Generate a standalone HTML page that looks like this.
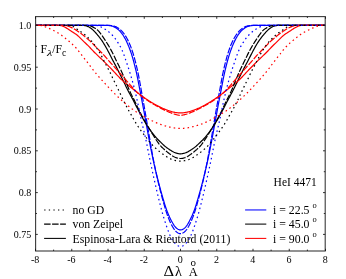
<!DOCTYPE html>
<html><head><meta charset="utf-8"><style>
html,body{margin:0;padding:0;background:#fff;}
body{width:346px;height:279px;overflow:hidden;}
svg{display:block;will-change:transform;filter:blur(0.28px);}
text{font-family:"Liberation Serif",serif;fill:#000;}
</style></head><body>
<svg width="346" height="279" viewBox="0 0 346 279">
<rect x="0" y="0" width="346" height="279" fill="#fff"/>
<clipPath id="c"><rect x="35.6" y="16.6" width="289.59999999999997" height="234.4"/></clipPath>
<g clip-path="url(#c)">
<path d="M35.60 25.40 L36.10 25.40 L36.60 25.40 L37.10 25.40 L37.60 25.40 L38.10 25.40 L38.60 25.40 L39.10 25.40 L39.60 25.40 L40.10 25.40 L40.60 25.40 L41.10 25.40 L41.60 25.40 L42.10 25.40 L42.60 25.40 L43.10 25.40 L43.60 25.40 L44.10 25.40 L44.60 25.40 L45.10 25.40 L45.60 25.40 L46.10 25.40 L46.60 25.40 L47.10 25.40 L47.60 25.40 L48.10 25.40 L48.60 25.40 L49.10 25.40 L49.60 25.40 L50.10 25.40 L50.60 25.40 L51.10 25.40 L51.60 25.40 L52.10 25.40 L52.60 25.40 L53.10 25.40 L53.60 25.40 L54.10 25.40 L54.60 25.40 L55.10 25.40 L55.60 25.40 L56.10 25.40 L56.60 25.40 L57.10 25.40 L57.60 25.40 L58.10 25.40 L58.60 25.40 L59.10 25.40 L59.60 25.40 L60.10 25.40 L60.60 25.40 L61.10 25.40 L61.60 25.40 L62.10 25.40 L62.60 25.40 L63.10 25.40 L63.60 25.40 L64.10 25.40 L64.60 25.40 L65.10 25.40 L65.60 25.40 L66.10 25.40 L66.60 25.40 L67.10 25.40 L67.60 25.40 L68.10 25.40 L68.60 25.40 L69.10 25.40 L69.60 25.40 L70.10 25.40 L70.60 25.40 L71.10 25.40 L71.60 25.40 L72.10 25.40 L72.60 25.40 L73.10 25.40 L73.60 25.40 L74.10 25.40 L74.60 25.40 L75.10 25.40 L75.60 25.40 L76.10 25.40 L76.60 25.40 L77.10 25.40 L77.60 25.40 L78.10 25.40 L78.60 25.40 L79.10 25.40 L79.60 25.40 L80.10 25.40 L80.60 25.40 L81.10 25.40 L81.60 25.40 L82.10 25.40 L82.60 25.40 L83.10 25.40 L83.60 25.40 L84.10 25.40 L84.60 25.40 L85.10 25.40 L85.60 25.40 L86.10 25.40 L86.60 25.40 L87.10 25.40 L87.60 25.40 L88.10 25.40 L88.60 25.40 L89.10 25.40 L89.60 25.40 L90.10 25.40 L90.60 25.40 L91.10 25.40 L91.60 25.40 L92.10 25.40 L92.60 25.40 L93.10 25.40 L93.60 25.40 L94.10 25.40 L94.60 25.40 L95.10 25.40 L95.60 25.40 L96.10 25.40 L96.60 25.40 L97.10 25.40 L97.60 25.40 L98.10 25.40 L98.60 25.40 L99.10 25.40 L99.60 25.40 L100.10 25.40 L100.60 25.40 L101.10 25.40 L101.60 25.40 L102.10 25.40 L102.60 25.40 L103.10 25.40 L103.60 25.40 L104.10 25.40 L104.60 25.40 L105.10 25.40 L105.60 25.40 L106.10 25.40 L106.60 25.41 L107.10 25.42 L107.60 25.43 L108.10 25.46 L108.60 25.50 L109.10 25.55 L109.60 25.61 L110.10 25.68 L110.60 25.77 L111.10 25.87 L111.60 25.98 L112.10 26.11 L112.60 26.26 L113.10 26.43 L113.60 26.63 L114.10 26.85 L114.60 27.10 L115.10 27.37 L115.60 27.67 L116.10 27.98 L116.60 28.32 L117.10 28.68 L117.60 29.07 L118.10 29.47 L118.60 29.90 L119.10 30.36 L119.60 30.85 L120.10 31.37 L120.60 31.93 L121.10 32.52 L121.60 33.14 L122.10 33.81 L122.60 34.50 L123.10 35.24 L123.60 36.02 L124.10 36.83 L124.60 37.69 L125.10 38.59 L125.60 39.54 L126.10 40.52 L126.60 41.55 L127.10 42.63 L127.60 43.75 L128.10 44.92 L128.60 46.13 L129.10 47.39 L129.60 48.70 L130.10 50.05 L130.60 51.45 L131.10 52.90 L131.60 54.42 L132.10 56.02 L132.60 57.69 L133.10 59.44 L133.60 61.26 L134.10 63.13 L134.60 65.06 L135.10 67.04 L135.60 69.08 L136.10 71.21 L136.60 73.44 L137.10 75.78 L137.60 78.21 L138.10 80.73 L138.60 83.30 L139.10 85.91 L139.60 88.52 L140.10 91.13 L140.60 93.73 L141.10 96.32 L141.60 98.92 L142.10 101.54 L142.60 104.17 L143.10 106.83 L143.60 109.51 L144.10 112.22 L144.60 114.94 L145.10 117.67 L145.60 120.41 L146.10 123.16 L146.60 125.91 L147.10 128.66 L147.60 131.41 L148.10 134.15 L148.60 136.87 L149.10 139.55 L149.60 142.19 L150.10 144.78 L150.60 147.32 L151.10 149.83 L151.60 152.30 L152.10 154.75 L152.60 157.16 L153.10 159.53 L153.60 161.85 L154.10 164.11 L154.60 166.32 L155.10 168.46 L155.60 170.56 L156.10 172.62 L156.60 174.65 L157.10 176.66 L157.60 178.64 L158.10 180.61 L158.60 182.55 L159.10 184.48 L159.60 186.37 L160.10 188.24 L160.60 190.07 L161.10 191.88 L161.60 193.65 L162.10 195.40 L162.60 197.13 L163.10 198.83 L163.60 200.52 L164.10 202.20 L164.60 203.84 L165.10 205.45 L165.60 207.01 L166.10 208.51 L166.60 209.93 L167.10 211.29 L167.60 212.57 L168.10 213.79 L168.60 214.97 L169.10 216.09 L169.60 217.18 L170.10 218.23 L170.60 219.24 L171.10 220.22 L171.60 221.17 L172.10 222.08 L172.60 222.95 L173.10 223.80 L173.60 224.61 L174.10 225.37 L174.60 226.07 L175.10 226.72 L175.60 227.28 L176.10 227.78 L176.60 228.22 L177.10 228.60 L177.60 228.93 L178.10 229.22 L178.60 229.46 L179.10 229.66 L179.60 229.80 L180.10 229.88 L180.60 229.90 L181.10 229.86 L181.60 229.75 L182.10 229.59 L182.60 229.37 L183.10 229.11 L183.60 228.80 L184.10 228.45 L184.60 228.05 L185.10 227.59 L185.60 227.07 L186.10 226.47 L186.60 225.80 L187.10 225.07 L187.60 224.29 L188.10 223.46 L188.60 222.61 L189.10 221.72 L189.60 220.79 L190.10 219.83 L190.60 218.84 L191.10 217.81 L191.60 216.75 L192.10 215.65 L192.60 214.50 L193.10 213.31 L193.60 212.06 L194.10 210.75 L194.60 209.37 L195.10 207.92 L195.60 206.40 L196.10 204.81 L196.60 203.19 L197.10 201.53 L197.60 199.85 L198.10 198.15 L198.60 196.44 L199.10 194.71 L199.60 192.95 L200.10 191.16 L200.60 189.34 L201.10 187.50 L201.60 185.62 L202.10 183.71 L202.60 181.78 L203.10 179.82 L203.60 177.85 L204.10 175.86 L204.60 173.84 L205.10 171.80 L205.60 169.72 L206.10 167.61 L206.60 165.44 L207.10 163.22 L207.60 160.93 L208.10 158.59 L208.60 156.20 L209.10 153.77 L209.60 151.31 L210.10 148.83 L210.60 146.31 L211.10 143.75 L211.60 141.14 L212.10 138.48 L212.60 135.79 L213.10 133.06 L213.60 130.31 L214.10 127.56 L214.60 124.81 L215.10 122.06 L215.60 119.32 L216.10 116.58 L216.60 113.85 L217.10 111.13 L217.60 108.44 L218.10 105.76 L218.60 103.12 L219.10 100.49 L219.60 97.88 L220.10 95.29 L220.60 92.69 L221.10 90.08 L221.60 87.47 L222.10 84.86 L222.60 82.27 L223.10 79.71 L223.60 77.23 L224.10 74.83 L224.60 72.54 L225.10 70.35 L225.60 68.26 L226.10 66.24 L226.60 64.28 L227.10 62.38 L227.60 60.52 L228.10 58.73 L228.60 57.01 L229.10 55.37 L229.60 53.81 L230.10 52.31 L230.60 50.88 L231.10 49.50 L231.60 48.17 L232.10 46.88 L232.60 45.64 L233.10 44.44 L233.60 43.30 L234.10 42.19 L234.60 41.13 L235.10 40.12 L235.60 39.15 L236.10 38.23 L236.60 37.34 L237.10 36.50 L237.60 35.70 L238.10 34.94 L238.60 34.22 L239.10 33.54 L239.60 32.89 L240.10 32.28 L240.60 31.70 L241.10 31.16 L241.60 30.65 L242.10 30.17 L242.60 29.73 L243.10 29.31 L243.60 28.91 L244.10 28.54 L244.60 28.19 L245.10 27.85 L245.60 27.54 L246.10 27.26 L246.60 26.99 L247.10 26.76 L247.60 26.55 L248.10 26.36 L248.60 26.20 L249.10 26.06 L249.60 25.94 L250.10 25.83 L250.60 25.73 L251.10 25.65 L251.60 25.58 L252.10 25.53 L252.60 25.48 L253.10 25.45 L253.60 25.43 L254.10 25.41 L254.60 25.41 L255.10 25.40 L255.60 25.40 L256.10 25.40 L256.60 25.40 L257.10 25.40 L257.60 25.40 L258.10 25.40 L258.60 25.40 L259.10 25.40 L259.60 25.40 L260.10 25.40 L260.60 25.40 L261.10 25.40 L261.60 25.40 L262.10 25.40 L262.60 25.40 L263.10 25.40 L263.60 25.40 L264.10 25.40 L264.60 25.40 L265.10 25.40 L265.60 25.40 L266.10 25.40 L266.60 25.40 L267.10 25.40 L267.60 25.40 L268.10 25.40 L268.60 25.40 L269.10 25.40 L269.60 25.40 L270.10 25.40 L270.60 25.40 L271.10 25.40 L271.60 25.40 L272.10 25.40 L272.60 25.40 L273.10 25.40 L273.60 25.40 L274.10 25.40 L274.60 25.40 L275.10 25.40 L275.60 25.40 L276.10 25.40 L276.60 25.40 L277.10 25.40 L277.60 25.40 L278.10 25.40 L278.60 25.40 L279.10 25.40 L279.60 25.40 L280.10 25.40 L280.60 25.40 L281.10 25.40 L281.60 25.40 L282.10 25.40 L282.60 25.40 L283.10 25.40 L283.60 25.40 L284.10 25.40 L284.60 25.40 L285.10 25.40 L285.60 25.40 L286.10 25.40 L286.60 25.40 L287.10 25.40 L287.60 25.40 L288.10 25.40 L288.60 25.40 L289.10 25.40 L289.60 25.40 L290.10 25.40 L290.60 25.40 L291.10 25.40 L291.60 25.40 L292.10 25.40 L292.60 25.40 L293.10 25.40 L293.60 25.40 L294.10 25.40 L294.60 25.40 L295.10 25.40 L295.60 25.40 L296.10 25.40 L296.60 25.40 L297.10 25.40 L297.60 25.40 L298.10 25.40 L298.60 25.40 L299.10 25.40 L299.60 25.40 L300.10 25.40 L300.60 25.40 L301.10 25.40 L301.60 25.40 L302.10 25.40 L302.60 25.40 L303.10 25.40 L303.60 25.40 L304.10 25.40 L304.60 25.40 L305.10 25.40 L305.60 25.40 L306.10 25.40 L306.60 25.40 L307.10 25.40 L307.60 25.40 L308.10 25.40 L308.60 25.40 L309.10 25.40 L309.60 25.40 L310.10 25.40 L310.60 25.40 L311.10 25.40 L311.60 25.40 L312.10 25.40 L312.60 25.40 L313.10 25.40 L313.60 25.40 L314.10 25.40 L314.60 25.40 L315.10 25.40 L315.60 25.40 L316.10 25.40 L316.60 25.40 L317.10 25.40 L317.60 25.40 L318.10 25.40 L318.60 25.40 L319.10 25.40 L319.60 25.40 L320.10 25.40 L320.60 25.40 L321.10 25.40 L321.60 25.40 L322.10 25.40 L322.60 25.40 L323.10 25.40 L323.60 25.40 L324.10 25.40 L324.60 25.40 L325.10 25.40" fill="none" stroke="#0000ff" stroke-width="1.2"/>
<path d="M35.60 25.40 L36.10 25.40 L36.60 25.40 L37.10 25.40 L37.60 25.40 L38.10 25.40 L38.60 25.40 L39.10 25.40 L39.60 25.40 L40.10 25.40 L40.60 25.40 L41.10 25.40 L41.60 25.40 L42.10 25.40 L42.60 25.40 L43.10 25.40 L43.60 25.40 L44.10 25.40 L44.60 25.40 L45.10 25.40 L45.60 25.40 L46.10 25.40 L46.60 25.40 L47.10 25.40 L47.60 25.40 L48.10 25.40 L48.60 25.40 L49.10 25.40 L49.60 25.40 L50.10 25.40 L50.60 25.40 L51.10 25.40 L51.60 25.40 L52.10 25.40 L52.60 25.40 L53.10 25.40 L53.60 25.40 L54.10 25.40 L54.60 25.40 L55.10 25.40 L55.60 25.40 L56.10 25.40 L56.60 25.40 L57.10 25.40 L57.60 25.40 L58.10 25.40 L58.60 25.40 L59.10 25.40 L59.60 25.40 L60.10 25.40 L60.60 25.40 L61.10 25.40 L61.60 25.40 L62.10 25.40 L62.60 25.40 L63.10 25.40 L63.60 25.40 L64.10 25.40 L64.60 25.40 L65.10 25.40 L65.60 25.40 L66.10 25.40 L66.60 25.40 L67.10 25.40 L67.60 25.40 L68.10 25.40 L68.60 25.40 L69.10 25.40 L69.60 25.40 L70.10 25.40 L70.60 25.40 L71.10 25.40 L71.60 25.40 L72.10 25.40 L72.60 25.40 L73.10 25.40 L73.60 25.40 L74.10 25.40 L74.60 25.40 L75.10 25.40 L75.60 25.40 L76.10 25.40 L76.60 25.40 L77.10 25.40 L77.60 25.40 L78.10 25.40 L78.60 25.40 L79.10 25.40 L79.60 25.40 L80.10 25.40 L80.60 25.40 L81.10 25.40 L81.60 25.40 L82.10 25.41 L82.60 25.42 L83.10 25.43 L83.60 25.46 L84.10 25.50 L84.60 25.56 L85.10 25.64 L85.60 25.73 L86.10 25.85 L86.60 25.99 L87.10 26.16 L87.60 26.35 L88.10 26.58 L88.60 26.82 L89.10 27.09 L89.60 27.39 L90.10 27.70 L90.60 28.04 L91.10 28.40 L91.60 28.79 L92.10 29.19 L92.60 29.62 L93.10 30.08 L93.60 30.55 L94.10 31.05 L94.60 31.58 L95.10 32.12 L95.60 32.68 L96.10 33.25 L96.60 33.83 L97.10 34.42 L97.60 35.02 L98.10 35.62 L98.60 36.24 L99.10 36.86 L99.60 37.50 L100.10 38.15 L100.60 38.82 L101.10 39.50 L101.60 40.21 L102.10 40.94 L102.60 41.69 L103.10 42.46 L103.60 43.25 L104.10 44.06 L104.60 44.89 L105.10 45.73 L105.60 46.60 L106.10 47.48 L106.60 48.38 L107.10 49.29 L107.60 50.22 L108.10 51.16 L108.60 52.11 L109.10 53.07 L109.60 54.05 L110.10 55.03 L110.60 56.01 L111.10 57.00 L111.60 57.99 L112.10 58.97 L112.60 59.94 L113.10 60.90 L113.60 61.84 L114.10 62.78 L114.60 63.72 L115.10 64.65 L115.60 65.59 L116.10 66.54 L116.60 67.50 L117.10 68.46 L117.60 69.44 L118.10 70.42 L118.60 71.40 L119.10 72.40 L119.60 73.40 L120.10 74.41 L120.60 75.42 L121.10 76.43 L121.60 77.45 L122.10 78.47 L122.60 79.49 L123.10 80.51 L123.60 81.53 L124.10 82.55 L124.60 83.58 L125.10 84.61 L125.60 85.64 L126.10 86.68 L126.60 87.70 L127.10 88.72 L127.60 89.72 L128.10 90.70 L128.60 91.66 L129.10 92.60 L129.60 93.53 L130.10 94.45 L130.60 95.37 L131.10 96.29 L131.60 97.22 L132.10 98.15 L132.60 99.09 L133.10 100.04 L133.60 101.00 L134.10 101.96 L134.60 102.94 L135.10 103.92 L135.60 104.90 L136.10 105.89 L136.60 106.87 L137.10 107.84 L137.60 108.81 L138.10 109.76 L138.60 110.70 L139.10 111.63 L139.60 112.55 L140.10 113.46 L140.60 114.37 L141.10 115.27 L141.60 116.17 L142.10 117.06 L142.60 117.95 L143.10 118.83 L143.60 119.70 L144.10 120.56 L144.60 121.40 L145.10 122.23 L145.60 123.05 L146.10 123.86 L146.60 124.66 L147.10 125.45 L147.60 126.23 L148.10 127.00 L148.60 127.76 L149.10 128.50 L149.60 129.24 L150.10 129.96 L150.60 130.66 L151.10 131.35 L151.60 132.02 L152.10 132.69 L152.60 133.34 L153.10 133.97 L153.60 134.60 L154.10 135.22 L154.60 135.82 L155.10 136.42 L155.60 137.00 L156.10 137.58 L156.60 138.14 L157.10 138.69 L157.60 139.22 L158.10 139.74 L158.60 140.25 L159.10 140.74 L159.60 141.23 L160.10 141.71 L160.60 142.19 L161.10 142.67 L161.60 143.15 L162.10 143.64 L162.60 144.11 L163.10 144.59 L163.60 145.05 L164.10 145.50 L164.60 145.93 L165.10 146.35 L165.60 146.76 L166.10 147.15 L166.60 147.54 L167.10 147.91 L167.60 148.27 L168.10 148.62 L168.60 148.96 L169.10 149.30 L169.60 149.63 L170.10 149.95 L170.60 150.27 L171.10 150.58 L171.60 150.89 L172.10 151.19 L172.60 151.49 L173.10 151.76 L173.60 152.02 L174.10 152.26 L174.60 152.48 L175.10 152.68 L175.60 152.86 L176.10 153.02 L176.60 153.17 L177.10 153.31 L177.60 153.44 L178.10 153.55 L178.60 153.65 L179.10 153.73 L179.60 153.78 L180.10 153.81 L180.60 153.82 L181.10 153.80 L181.60 153.76 L182.10 153.70 L182.60 153.61 L183.10 153.51 L183.60 153.39 L184.10 153.26 L184.60 153.12 L185.10 152.96 L185.60 152.79 L186.10 152.60 L186.60 152.40 L187.10 152.17 L187.60 151.92 L188.10 151.65 L188.60 151.37 L189.10 151.07 L189.60 150.77 L190.10 150.46 L190.60 150.14 L191.10 149.82 L191.60 149.50 L192.10 149.16 L192.60 148.83 L193.10 148.48 L193.60 148.12 L194.10 147.76 L194.60 147.38 L195.10 147.00 L195.60 146.60 L196.10 146.19 L196.60 145.76 L197.10 145.32 L197.60 144.87 L198.10 144.40 L198.60 143.92 L199.10 143.44 L199.60 142.96 L200.10 142.48 L200.60 142.00 L201.10 141.52 L201.60 141.03 L202.10 140.55 L202.60 140.05 L203.10 139.54 L203.60 139.01 L204.10 138.47 L204.60 137.92 L205.10 137.35 L205.60 136.77 L206.10 136.18 L206.60 135.58 L207.10 134.97 L207.60 134.35 L208.10 133.72 L208.60 133.08 L209.10 132.42 L209.60 131.75 L210.10 131.07 L210.60 130.38 L211.10 129.67 L211.60 128.95 L212.10 128.21 L212.60 127.46 L213.10 126.69 L213.60 125.92 L214.10 125.13 L214.60 124.34 L215.10 123.54 L215.60 122.72 L216.10 121.90 L216.60 121.06 L217.10 120.22 L217.60 119.35 L218.10 118.48 L218.60 117.60 L219.10 116.71 L219.60 115.81 L220.10 114.91 L220.60 114.01 L221.10 113.10 L221.60 112.19 L222.10 111.26 L222.60 110.33 L223.10 109.38 L223.60 108.42 L224.10 107.45 L224.60 106.48 L225.10 105.49 L225.60 104.51 L226.10 103.53 L226.60 102.55 L227.10 101.58 L227.60 100.61 L228.10 99.66 L228.60 98.71 L229.10 97.78 L229.60 96.85 L230.10 95.93 L230.60 95.00 L231.10 94.08 L231.60 93.16 L232.10 92.22 L232.60 91.27 L233.10 90.31 L233.60 89.32 L234.10 88.32 L234.60 87.29 L235.10 86.26 L235.60 85.23 L236.10 84.20 L236.60 83.17 L237.10 82.14 L237.60 81.12 L238.10 80.10 L238.60 79.08 L239.10 78.06 L239.60 77.04 L240.10 76.02 L240.60 75.01 L241.10 74.00 L241.60 73.00 L242.10 72.00 L242.60 71.01 L243.10 70.02 L243.60 69.05 L244.10 68.08 L244.60 67.11 L245.10 66.16 L245.60 65.22 L246.10 64.28 L246.60 63.34 L247.10 62.41 L247.60 61.47 L248.10 60.52 L248.60 59.56 L249.10 58.58 L249.60 57.60 L250.10 56.61 L250.60 55.62 L251.10 54.63 L251.60 53.66 L252.10 52.69 L252.60 51.73 L253.10 50.78 L253.60 49.85 L254.10 48.93 L254.60 48.02 L255.10 47.13 L255.60 46.25 L256.10 45.39 L256.60 44.55 L257.10 43.73 L257.60 42.93 L258.10 42.15 L258.60 41.38 L259.10 40.64 L259.60 39.92 L260.10 39.23 L260.60 38.55 L261.10 37.89 L261.60 37.24 L262.10 36.61 L262.60 35.99 L263.10 35.38 L263.60 34.78 L264.10 34.18 L264.60 33.60 L265.10 33.02 L265.60 32.45 L266.10 31.90 L266.60 31.37 L267.10 30.85 L267.60 30.36 L268.10 29.89 L268.60 29.45 L269.10 29.03 L269.60 28.63 L270.10 28.26 L270.60 27.90 L271.10 27.57 L271.60 27.27 L272.10 26.98 L272.60 26.72 L273.10 26.48 L273.60 26.27 L274.10 26.09 L274.60 25.93 L275.10 25.80 L275.60 25.69 L276.10 25.60 L276.60 25.54 L277.10 25.48 L277.60 25.45 L278.10 25.43 L278.60 25.41 L279.10 25.40 L279.60 25.40 L280.10 25.40 L280.60 25.40 L281.10 25.40 L281.60 25.40 L282.10 25.40 L282.60 25.40 L283.10 25.40 L283.60 25.40 L284.10 25.40 L284.60 25.40 L285.10 25.40 L285.60 25.40 L286.10 25.40 L286.60 25.40 L287.10 25.40 L287.60 25.40 L288.10 25.40 L288.60 25.40 L289.10 25.40 L289.60 25.40 L290.10 25.40 L290.60 25.40 L291.10 25.40 L291.60 25.40 L292.10 25.40 L292.60 25.40 L293.10 25.40 L293.60 25.40 L294.10 25.40 L294.60 25.40 L295.10 25.40 L295.60 25.40 L296.10 25.40 L296.60 25.40 L297.10 25.40 L297.60 25.40 L298.10 25.40 L298.60 25.40 L299.10 25.40 L299.60 25.40 L300.10 25.40 L300.60 25.40 L301.10 25.40 L301.60 25.40 L302.10 25.40 L302.60 25.40 L303.10 25.40 L303.60 25.40 L304.10 25.40 L304.60 25.40 L305.10 25.40 L305.60 25.40 L306.10 25.40 L306.60 25.40 L307.10 25.40 L307.60 25.40 L308.10 25.40 L308.60 25.40 L309.10 25.40 L309.60 25.40 L310.10 25.40 L310.60 25.40 L311.10 25.40 L311.60 25.40 L312.10 25.40 L312.60 25.40 L313.10 25.40 L313.60 25.40 L314.10 25.40 L314.60 25.40 L315.10 25.40 L315.60 25.40 L316.10 25.40 L316.60 25.40 L317.10 25.40 L317.60 25.40 L318.10 25.40 L318.60 25.40 L319.10 25.40 L319.60 25.40 L320.10 25.40 L320.60 25.40 L321.10 25.40 L321.60 25.40 L322.10 25.40 L322.60 25.40 L323.10 25.40 L323.60 25.40 L324.10 25.40 L324.60 25.40 L325.10 25.40" fill="none" stroke="#000000" stroke-width="1.2"/>
<path d="M35.60 25.40 L36.10 25.40 L36.60 25.40 L37.10 25.40 L37.60 25.40 L38.10 25.40 L38.60 25.40 L39.10 25.40 L39.60 25.40 L40.10 25.40 L40.60 25.40 L41.10 25.40 L41.60 25.40 L42.10 25.40 L42.60 25.40 L43.10 25.40 L43.60 25.40 L44.10 25.40 L44.60 25.40 L45.10 25.40 L45.60 25.40 L46.10 25.40 L46.60 25.40 L47.10 25.40 L47.60 25.40 L48.10 25.40 L48.60 25.40 L49.10 25.40 L49.60 25.40 L50.10 25.40 L50.60 25.40 L51.10 25.40 L51.60 25.40 L52.10 25.40 L52.60 25.40 L53.10 25.40 L53.60 25.40 L54.10 25.40 L54.60 25.40 L55.10 25.40 L55.60 25.40 L56.10 25.40 L56.60 25.40 L57.10 25.40 L57.60 25.40 L58.10 25.41 L58.60 25.41 L59.10 25.42 L59.60 25.45 L60.10 25.48 L60.60 25.54 L61.10 25.62 L61.60 25.73 L62.10 25.88 L62.60 26.07 L63.10 26.30 L63.60 26.55 L64.10 26.80 L64.60 27.07 L65.10 27.33 L65.60 27.59 L66.10 27.86 L66.60 28.14 L67.10 28.43 L67.60 28.74 L68.10 29.07 L68.60 29.40 L69.10 29.75 L69.60 30.09 L70.10 30.42 L70.60 30.76 L71.10 31.09 L71.60 31.42 L72.10 31.74 L72.60 32.06 L73.10 32.38 L73.60 32.70 L74.10 33.01 L74.60 33.33 L75.10 33.66 L75.60 33.99 L76.10 34.34 L76.60 34.71 L77.10 35.09 L77.60 35.50 L78.10 35.93 L78.60 36.38 L79.10 36.85 L79.60 37.34 L80.10 37.84 L80.60 38.35 L81.10 38.86 L81.60 39.36 L82.10 39.87 L82.60 40.36 L83.10 40.85 L83.60 41.34 L84.10 41.83 L84.60 42.31 L85.10 42.80 L85.60 43.28 L86.10 43.76 L86.60 44.24 L87.10 44.71 L87.60 45.18 L88.10 45.66 L88.60 46.16 L89.10 46.67 L89.60 47.20 L90.10 47.73 L90.60 48.27 L91.10 48.81 L91.60 49.35 L92.10 49.89 L92.60 50.42 L93.10 50.95 L93.60 51.46 L94.10 51.97 L94.60 52.46 L95.10 52.95 L95.60 53.44 L96.10 53.93 L96.60 54.41 L97.10 54.90 L97.60 55.39 L98.10 55.87 L98.60 56.35 L99.10 56.82 L99.60 57.29 L100.10 57.76 L100.60 58.22 L101.10 58.69 L101.60 59.16 L102.10 59.64 L102.60 60.12 L103.10 60.61 L103.60 61.11 L104.10 61.62 L104.60 62.13 L105.10 62.64 L105.60 63.15 L106.10 63.66 L106.60 64.17 L107.10 64.68 L107.60 65.19 L108.10 65.69 L108.60 66.19 L109.10 66.69 L109.60 67.19 L110.10 67.68 L110.60 68.18 L111.10 68.69 L111.60 69.20 L112.10 69.71 L112.60 70.23 L113.10 70.76 L113.60 71.30 L114.10 71.84 L114.60 72.39 L115.10 72.93 L115.60 73.48 L116.10 74.02 L116.60 74.56 L117.10 75.10 L117.60 75.63 L118.10 76.16 L118.60 76.68 L119.10 77.20 L119.60 77.72 L120.10 78.22 L120.60 78.72 L121.10 79.21 L121.60 79.68 L122.10 80.15 L122.60 80.60 L123.10 81.04 L123.60 81.48 L124.10 81.90 L124.60 82.32 L125.10 82.73 L125.60 83.14 L126.10 83.55 L126.60 83.95 L127.10 84.35 L127.60 84.76 L128.10 85.16 L128.60 85.56 L129.10 85.96 L129.60 86.36 L130.10 86.76 L130.60 87.16 L131.10 87.55 L131.60 87.95 L132.10 88.34 L132.60 88.74 L133.10 89.13 L133.60 89.53 L134.10 89.93 L134.60 90.32 L135.10 90.72 L135.60 91.12 L136.10 91.52 L136.60 91.92 L137.10 92.32 L137.60 92.72 L138.10 93.12 L138.60 93.51 L139.10 93.90 L139.60 94.28 L140.10 94.66 L140.60 95.04 L141.10 95.41 L141.60 95.78 L142.10 96.14 L142.60 96.50 L143.10 96.86 L143.60 97.21 L144.10 97.56 L144.60 97.91 L145.10 98.25 L145.60 98.60 L146.10 98.93 L146.60 99.27 L147.10 99.60 L147.60 99.93 L148.10 100.26 L148.60 100.58 L149.10 100.90 L149.60 101.21 L150.10 101.53 L150.60 101.84 L151.10 102.15 L151.60 102.45 L152.10 102.75 L152.60 103.05 L153.10 103.34 L153.60 103.64 L154.10 103.92 L154.60 104.21 L155.10 104.49 L155.60 104.77 L156.10 105.05 L156.60 105.32 L157.10 105.59 L157.60 105.86 L158.10 106.12 L158.60 106.38 L159.10 106.64 L159.60 106.89 L160.10 107.13 L160.60 107.37 L161.10 107.61 L161.60 107.84 L162.10 108.06 L162.60 108.28 L163.10 108.50 L163.60 108.71 L164.10 108.92 L164.60 109.13 L165.10 109.33 L165.60 109.53 L166.10 109.72 L166.60 109.91 L167.10 110.10 L167.60 110.28 L168.10 110.46 L168.60 110.63 L169.10 110.80 L169.60 110.96 L170.10 111.12 L170.60 111.27 L171.10 111.43 L171.60 111.57 L172.10 111.71 L172.60 111.85 L173.10 111.97 L173.60 112.09 L174.10 112.20 L174.60 112.30 L175.10 112.40 L175.60 112.48 L176.10 112.56 L176.60 112.64 L177.10 112.70 L177.60 112.77 L178.10 112.82 L178.60 112.87 L179.10 112.91 L179.60 112.94 L180.10 112.96 L180.60 112.96 L181.10 112.95 L181.60 112.93 L182.10 112.90 L182.60 112.86 L183.10 112.80 L183.60 112.74 L184.10 112.68 L184.60 112.61 L185.10 112.53 L185.60 112.45 L186.10 112.36 L186.60 112.26 L187.10 112.16 L187.60 112.05 L188.10 111.92 L188.60 111.79 L189.10 111.66 L189.60 111.51 L190.10 111.37 L190.60 111.21 L191.10 111.06 L191.60 110.90 L192.10 110.73 L192.60 110.56 L193.10 110.39 L193.60 110.21 L194.10 110.02 L194.60 109.84 L195.10 109.64 L195.60 109.45 L196.10 109.25 L196.60 109.05 L197.10 108.84 L197.60 108.63 L198.10 108.42 L198.60 108.20 L199.10 107.97 L199.60 107.75 L200.10 107.51 L200.60 107.28 L201.10 107.04 L201.60 106.79 L202.10 106.54 L202.60 106.28 L203.10 106.02 L203.60 105.75 L204.10 105.48 L204.60 105.21 L205.10 104.94 L205.60 104.66 L206.10 104.38 L206.60 104.10 L207.10 103.81 L207.60 103.52 L208.10 103.23 L208.60 102.93 L209.10 102.63 L209.60 102.33 L210.10 102.02 L210.60 101.72 L211.10 101.40 L211.60 101.09 L212.10 100.77 L212.60 100.45 L213.10 100.13 L213.60 99.80 L214.10 99.47 L214.60 99.14 L215.10 98.80 L215.60 98.46 L216.10 98.12 L216.60 97.77 L217.10 97.42 L217.60 97.07 L218.10 96.72 L218.60 96.36 L219.10 96.00 L219.60 95.63 L220.10 95.26 L220.60 94.89 L221.10 94.51 L221.60 94.13 L222.10 93.74 L222.60 93.35 L223.10 92.96 L223.60 92.56 L224.10 92.16 L224.60 91.76 L225.10 91.36 L225.60 90.96 L226.10 90.56 L226.60 90.16 L227.10 89.77 L227.60 89.37 L228.10 88.97 L228.60 88.58 L229.10 88.18 L229.60 87.79 L230.10 87.39 L230.60 87.00 L231.10 86.60 L231.60 86.20 L232.10 85.80 L232.60 85.40 L233.10 85.00 L233.60 84.60 L234.10 84.19 L234.60 83.79 L235.10 83.38 L235.60 82.98 L236.10 82.57 L236.60 82.15 L237.10 81.73 L237.60 81.30 L238.10 80.87 L238.60 80.42 L239.10 79.96 L239.60 79.49 L240.10 79.01 L240.60 78.52 L241.10 78.02 L241.60 77.51 L242.10 76.99 L242.60 76.47 L243.10 75.95 L243.60 75.42 L244.10 74.88 L244.60 74.34 L245.10 73.80 L245.60 73.26 L246.10 72.71 L246.60 72.17 L247.10 71.62 L247.60 71.09 L248.10 70.55 L248.60 70.02 L249.10 69.51 L249.60 68.99 L250.10 68.49 L250.60 67.98 L251.10 67.48 L251.60 66.99 L252.10 66.49 L252.60 65.99 L253.10 65.49 L253.60 64.99 L254.10 64.48 L254.60 63.97 L255.10 63.46 L255.60 62.94 L256.10 62.43 L256.60 61.92 L257.10 61.41 L257.60 60.91 L258.10 60.42 L258.60 59.93 L259.10 59.45 L259.60 58.97 L260.10 58.50 L260.60 58.04 L261.10 57.57 L261.60 57.11 L262.10 56.64 L262.60 56.16 L263.10 55.68 L263.60 55.19 L264.10 54.71 L264.60 54.22 L265.10 53.73 L265.60 53.25 L266.10 52.76 L266.60 52.27 L267.10 51.77 L267.60 51.26 L268.10 50.74 L268.60 50.21 L269.10 49.68 L269.60 49.14 L270.10 48.60 L270.60 48.06 L271.10 47.52 L271.60 46.99 L272.10 46.47 L272.60 45.96 L273.10 45.47 L273.60 44.99 L274.10 44.52 L274.60 44.05 L275.10 43.57 L275.60 43.09 L276.10 42.61 L276.60 42.12 L277.10 41.63 L277.60 41.14 L278.10 40.66 L278.60 40.16 L279.10 39.67 L279.60 39.16 L280.10 38.65 L280.60 38.14 L281.10 37.64 L281.60 37.14 L282.10 36.66 L282.60 36.20 L283.10 35.76 L283.60 35.34 L284.10 34.94 L284.60 34.56 L285.10 34.20 L285.60 33.85 L286.10 33.52 L286.60 33.20 L287.10 32.89 L287.60 32.57 L288.10 32.26 L288.60 31.94 L289.10 31.61 L289.60 31.29 L290.10 30.96 L290.60 30.63 L291.10 30.29 L291.60 29.95 L292.10 29.61 L292.60 29.27 L293.10 28.94 L293.60 28.62 L294.10 28.31 L294.60 28.02 L295.10 27.75 L295.60 27.49 L296.10 27.22 L296.60 26.96 L297.10 26.70 L297.60 26.44 L298.10 26.21 L298.60 25.99 L299.10 25.82 L299.60 25.68 L300.10 25.58 L300.60 25.51 L301.10 25.46 L301.60 25.44 L302.10 25.42 L302.60 25.41 L303.10 25.40 L303.60 25.40 L304.10 25.40 L304.60 25.40 L305.10 25.40 L305.60 25.40 L306.10 25.40 L306.60 25.40 L307.10 25.40 L307.60 25.40 L308.10 25.40 L308.60 25.40 L309.10 25.40 L309.60 25.40 L310.10 25.40 L310.60 25.40 L311.10 25.40 L311.60 25.40 L312.10 25.40 L312.60 25.40 L313.10 25.40 L313.60 25.40 L314.10 25.40 L314.60 25.40 L315.10 25.40 L315.60 25.40 L316.10 25.40 L316.60 25.40 L317.10 25.40 L317.60 25.40 L318.10 25.40 L318.60 25.40 L319.10 25.40 L319.60 25.40 L320.10 25.40 L320.60 25.40 L321.10 25.40 L321.60 25.40 L322.10 25.40 L322.60 25.40 L323.10 25.40 L323.60 25.40 L324.10 25.40 L324.60 25.40 L325.10 25.40" fill="none" stroke="#ff0000" stroke-width="1.2"/>
<path d="M35.60 25.40 L36.10 25.40 L36.60 25.40 L37.10 25.40 L37.60 25.40 L38.10 25.40 L38.60 25.40 L39.10 25.40 L39.60 25.40 L40.10 25.40 L40.60 25.40 L41.10 25.40 L41.60 25.40 L42.10 25.40 L42.60 25.40 L43.10 25.40 L43.60 25.40 L44.10 25.40 L44.60 25.40 L45.10 25.40 L45.60 25.40 L46.10 25.40 L46.60 25.40 L47.10 25.40 L47.60 25.40 L48.10 25.40 L48.60 25.40 L49.10 25.40 L49.60 25.40 L50.10 25.40 L50.60 25.40 L51.10 25.40 L51.60 25.40 L52.10 25.40 L52.60 25.40 L53.10 25.40 L53.60 25.40 L54.10 25.40 L54.60 25.40 L55.10 25.40 L55.60 25.40 L56.10 25.40 L56.60 25.40 L57.10 25.40 L57.60 25.40 L58.10 25.40 L58.60 25.40 L59.10 25.40 L59.60 25.40 L60.10 25.40 L60.60 25.40 L61.10 25.40 L61.60 25.40 L62.10 25.40 L62.60 25.40 L63.10 25.40 L63.60 25.40 L64.10 25.40 L64.60 25.40 L65.10 25.40 L65.60 25.40 L66.10 25.40 L66.60 25.40 L67.10 25.40 L67.60 25.40 L68.10 25.40 L68.60 25.40 L69.10 25.40 L69.60 25.40 L70.10 25.40 L70.60 25.40 L71.10 25.40 L71.60 25.40 L72.10 25.40 L72.60 25.40 L73.10 25.40 L73.60 25.40 L74.10 25.40 L74.60 25.40 L75.10 25.40 L75.60 25.40 L76.10 25.40 L76.60 25.40 L77.10 25.40 L77.60 25.40 L78.10 25.40 L78.60 25.40 L79.10 25.40 L79.60 25.40 L80.10 25.40 L80.60 25.40 L81.10 25.40 L81.60 25.40 L82.10 25.40 L82.60 25.40 L83.10 25.40 L83.60 25.40 L84.10 25.40 L84.60 25.40 L85.10 25.40 L85.60 25.40 L86.10 25.40 L86.60 25.40 L87.10 25.40 L87.60 25.40 L88.10 25.40 L88.60 25.40 L89.10 25.40 L89.60 25.40 L90.10 25.40 L90.60 25.40 L91.10 25.40 L91.60 25.40 L92.10 25.40 L92.60 25.40 L93.10 25.40 L93.60 25.40 L94.10 25.40 L94.60 25.40 L95.10 25.40 L95.60 25.40 L96.10 25.40 L96.60 25.40 L97.10 25.40 L97.60 25.40 L98.10 25.40 L98.60 25.40 L99.10 25.40 L99.60 25.40 L100.10 25.40 L100.60 25.40 L101.10 25.40 L101.60 25.40 L102.10 25.40 L102.60 25.40 L103.10 25.40 L103.60 25.40 L104.10 25.40 L104.60 25.40 L105.10 25.40 L105.60 25.40 L106.10 25.40 L106.60 25.40 L107.10 25.40 L107.60 25.40 L108.10 25.40 L108.60 25.41 L109.10 25.42 L109.60 25.44 L110.10 25.46 L110.60 25.50 L111.10 25.55 L111.60 25.62 L112.10 25.69 L112.60 25.78 L113.10 25.88 L113.60 25.99 L114.10 26.13 L114.60 26.28 L115.10 26.45 L115.60 26.65 L116.10 26.87 L116.60 27.12 L117.10 27.40 L117.60 27.70 L118.10 28.02 L118.60 28.36 L119.10 28.72 L119.60 29.11 L120.10 29.51 L120.60 29.95 L121.10 30.41 L121.60 30.90 L122.10 31.42 L122.60 31.98 L123.10 32.58 L123.60 33.21 L124.10 33.87 L124.60 34.58 L125.10 35.32 L125.60 36.10 L126.10 36.92 L126.60 37.78 L127.10 38.68 L127.60 39.63 L128.10 40.62 L128.60 41.66 L129.10 42.74 L129.60 43.89 L130.10 45.08 L130.60 46.34 L131.10 47.66 L131.60 49.03 L132.10 50.46 L132.60 51.96 L133.10 53.52 L133.60 55.16 L134.10 56.88 L134.60 58.68 L135.10 60.56 L135.60 62.49 L136.10 64.49 L136.60 66.55 L137.10 68.68 L137.60 70.90 L138.10 73.24 L138.60 75.71 L139.10 78.29 L139.60 80.97 L140.10 83.71 L140.60 86.48 L141.10 89.26 L141.60 92.04 L142.10 94.81 L142.60 97.58 L143.10 100.35 L143.60 103.14 L144.10 105.93 L144.60 108.75 L145.10 111.60 L145.60 114.48 L146.10 117.38 L146.60 120.32 L147.10 123.29 L147.60 126.27 L148.10 129.25 L148.60 132.22 L149.10 135.18 L149.60 138.12 L150.10 141.04 L150.60 143.94 L151.10 146.82 L151.60 149.67 L152.10 152.49 L152.60 155.27 L153.10 157.99 L153.60 160.65 L154.10 163.23 L154.60 165.74 L155.10 168.17 L155.60 170.53 L156.10 172.84 L156.60 175.10 L157.10 177.32 L157.60 179.50 L158.10 181.66 L158.60 183.77 L159.10 185.85 L159.60 187.89 L160.10 189.89 L160.60 191.84 L161.10 193.75 L161.60 195.63 L162.10 197.47 L162.60 199.30 L163.10 201.11 L163.60 202.91 L164.10 204.69 L164.60 206.44 L165.10 208.15 L165.60 209.80 L166.10 211.39 L166.60 212.91 L167.10 214.36 L167.60 215.75 L168.10 217.08 L168.60 218.36 L169.10 219.59 L169.60 220.76 L170.10 221.89 L170.60 222.96 L171.10 223.99 L171.60 224.97 L172.10 225.91 L172.60 226.80 L173.10 227.64 L173.60 228.44 L174.10 229.18 L174.60 229.86 L175.10 230.47 L175.60 231.01 L176.10 231.50 L176.60 231.93 L177.10 232.31 L177.60 232.66 L178.10 232.96 L178.60 233.22 L179.10 233.43 L179.60 233.58 L180.10 233.67 L180.60 233.69 L181.10 233.64 L181.60 233.53 L182.10 233.35 L182.60 233.12 L183.10 232.85 L183.60 232.52 L184.10 232.16 L184.60 231.76 L185.10 231.31 L185.60 230.80 L186.10 230.23 L186.60 229.60 L187.10 228.89 L187.60 228.13 L188.10 227.31 L188.60 226.45 L189.10 225.54 L189.60 224.59 L190.10 223.59 L190.60 222.54 L191.10 221.44 L191.60 220.30 L192.10 219.10 L192.60 217.86 L193.10 216.56 L193.60 215.20 L194.10 213.79 L194.60 212.31 L195.10 210.76 L195.60 209.15 L196.10 207.47 L196.60 205.74 L197.10 203.98 L197.60 202.19 L198.10 200.39 L198.60 198.57 L199.10 196.74 L199.60 194.88 L200.10 193.00 L200.60 191.07 L201.10 189.10 L201.60 187.08 L202.10 185.03 L202.60 182.93 L203.10 180.80 L203.60 178.63 L204.10 176.43 L204.60 174.20 L205.10 171.92 L205.60 169.59 L206.10 167.20 L206.60 164.74 L207.10 162.21 L207.60 159.60 L208.10 156.91 L208.60 154.16 L209.10 151.37 L209.60 148.53 L210.10 145.67 L210.60 142.78 L211.10 139.88 L211.60 136.95 L212.10 134.00 L212.60 131.04 L213.10 128.06 L213.60 125.07 L214.10 122.10 L214.60 119.14 L215.10 116.22 L215.60 113.32 L216.10 110.46 L216.60 107.62 L217.10 104.81 L217.60 102.02 L218.10 99.24 L218.60 96.47 L219.10 93.71 L219.60 90.93 L220.10 88.15 L220.60 85.37 L221.10 82.61 L221.60 79.89 L222.10 77.24 L222.60 74.71 L223.10 72.29 L223.60 70.00 L224.10 67.81 L224.60 65.71 L225.10 63.68 L225.60 61.71 L226.10 59.80 L226.60 57.95 L227.10 56.19 L227.60 54.50 L228.10 52.89 L228.60 51.35 L229.10 49.88 L229.60 48.47 L230.10 47.12 L230.60 45.83 L231.10 44.60 L231.60 43.42 L232.10 42.30 L232.60 41.24 L233.10 40.22 L233.60 39.25 L234.10 38.32 L234.60 37.43 L235.10 36.58 L235.60 35.78 L236.10 35.02 L236.60 34.29 L237.10 33.60 L237.60 32.95 L238.10 32.34 L238.60 31.76 L239.10 31.21 L239.60 30.70 L240.10 30.22 L240.60 29.77 L241.10 29.35 L241.60 28.95 L242.10 28.57 L242.60 28.22 L243.10 27.89 L243.60 27.57 L244.10 27.28 L244.60 27.02 L245.10 26.78 L245.60 26.57 L246.10 26.38 L246.60 26.21 L247.10 26.07 L247.60 25.95 L248.10 25.84 L248.60 25.74 L249.10 25.66 L249.60 25.59 L250.10 25.53 L250.60 25.49 L251.10 25.45 L251.60 25.43 L252.10 25.41 L252.60 25.41 L253.10 25.40 L253.60 25.40 L254.10 25.40 L254.60 25.40 L255.10 25.40 L255.60 25.40 L256.10 25.40 L256.60 25.40 L257.10 25.40 L257.60 25.40 L258.10 25.40 L258.60 25.40 L259.10 25.40 L259.60 25.40 L260.10 25.40 L260.60 25.40 L261.10 25.40 L261.60 25.40 L262.10 25.40 L262.60 25.40 L263.10 25.40 L263.60 25.40 L264.10 25.40 L264.60 25.40 L265.10 25.40 L265.60 25.40 L266.10 25.40 L266.60 25.40 L267.10 25.40 L267.60 25.40 L268.10 25.40 L268.60 25.40 L269.10 25.40 L269.60 25.40 L270.10 25.40 L270.60 25.40 L271.10 25.40 L271.60 25.40 L272.10 25.40 L272.60 25.40 L273.10 25.40 L273.60 25.40 L274.10 25.40 L274.60 25.40 L275.10 25.40 L275.60 25.40 L276.10 25.40 L276.60 25.40 L277.10 25.40 L277.60 25.40 L278.10 25.40 L278.60 25.40 L279.10 25.40 L279.60 25.40 L280.10 25.40 L280.60 25.40 L281.10 25.40 L281.60 25.40 L282.10 25.40 L282.60 25.40 L283.10 25.40 L283.60 25.40 L284.10 25.40 L284.60 25.40 L285.10 25.40 L285.60 25.40 L286.10 25.40 L286.60 25.40 L287.10 25.40 L287.60 25.40 L288.10 25.40 L288.60 25.40 L289.10 25.40 L289.60 25.40 L290.10 25.40 L290.60 25.40 L291.10 25.40 L291.60 25.40 L292.10 25.40 L292.60 25.40 L293.10 25.40 L293.60 25.40 L294.10 25.40 L294.60 25.40 L295.10 25.40 L295.60 25.40 L296.10 25.40 L296.60 25.40 L297.10 25.40 L297.60 25.40 L298.10 25.40 L298.60 25.40 L299.10 25.40 L299.60 25.40 L300.10 25.40 L300.60 25.40 L301.10 25.40 L301.60 25.40 L302.10 25.40 L302.60 25.40 L303.10 25.40 L303.60 25.40 L304.10 25.40 L304.60 25.40 L305.10 25.40 L305.60 25.40 L306.10 25.40 L306.60 25.40 L307.10 25.40 L307.60 25.40 L308.10 25.40 L308.60 25.40 L309.10 25.40 L309.60 25.40 L310.10 25.40 L310.60 25.40 L311.10 25.40 L311.60 25.40 L312.10 25.40 L312.60 25.40 L313.10 25.40 L313.60 25.40 L314.10 25.40 L314.60 25.40 L315.10 25.40 L315.60 25.40 L316.10 25.40 L316.60 25.40 L317.10 25.40 L317.60 25.40 L318.10 25.40 L318.60 25.40 L319.10 25.40 L319.60 25.40 L320.10 25.40 L320.60 25.40 L321.10 25.40 L321.60 25.40 L322.10 25.40 L322.60 25.40 L323.10 25.40 L323.60 25.40 L324.10 25.40 L324.60 25.40 L325.10 25.40" fill="none" stroke="#0000ff" stroke-width="1.2" stroke-dasharray="6.3 1.5"/>
<path d="M35.60 25.40 L36.10 25.40 L36.60 25.40 L37.10 25.40 L37.60 25.40 L38.10 25.40 L38.60 25.40 L39.10 25.40 L39.60 25.40 L40.10 25.40 L40.60 25.40 L41.10 25.40 L41.60 25.40 L42.10 25.40 L42.60 25.40 L43.10 25.40 L43.60 25.40 L44.10 25.40 L44.60 25.40 L45.10 25.40 L45.60 25.40 L46.10 25.40 L46.60 25.40 L47.10 25.40 L47.60 25.40 L48.10 25.40 L48.60 25.40 L49.10 25.40 L49.60 25.40 L50.10 25.40 L50.60 25.40 L51.10 25.40 L51.60 25.40 L52.10 25.40 L52.60 25.40 L53.10 25.40 L53.60 25.40 L54.10 25.40 L54.60 25.40 L55.10 25.40 L55.60 25.40 L56.10 25.40 L56.60 25.40 L57.10 25.40 L57.60 25.40 L58.10 25.40 L58.60 25.40 L59.10 25.40 L59.60 25.40 L60.10 25.40 L60.60 25.40 L61.10 25.40 L61.60 25.40 L62.10 25.40 L62.60 25.40 L63.10 25.40 L63.60 25.40 L64.10 25.40 L64.60 25.40 L65.10 25.40 L65.60 25.40 L66.10 25.40 L66.60 25.40 L67.10 25.40 L67.60 25.40 L68.10 25.40 L68.60 25.40 L69.10 25.40 L69.60 25.40 L70.10 25.40 L70.60 25.40 L71.10 25.40 L71.60 25.40 L72.10 25.40 L72.60 25.40 L73.10 25.40 L73.60 25.40 L74.10 25.40 L74.60 25.40 L75.10 25.40 L75.60 25.40 L76.10 25.40 L76.60 25.40 L77.10 25.40 L77.60 25.40 L78.10 25.40 L78.60 25.40 L79.10 25.40 L79.60 25.40 L80.10 25.40 L80.60 25.40 L81.10 25.40 L81.60 25.40 L82.10 25.40 L82.60 25.40 L83.10 25.40 L83.60 25.40 L84.10 25.40 L84.60 25.40 L85.10 25.40 L85.60 25.41 L86.10 25.41 L86.60 25.43 L87.10 25.45 L87.60 25.48 L88.10 25.53 L88.60 25.59 L89.10 25.68 L89.60 25.78 L90.10 25.90 L90.60 26.05 L91.10 26.23 L91.60 26.43 L92.10 26.65 L92.60 26.88 L93.10 27.14 L93.60 27.40 L94.10 27.68 L94.60 27.97 L95.10 28.27 L95.60 28.59 L96.10 28.92 L96.60 29.27 L97.10 29.65 L97.60 30.08 L98.10 30.56 L98.60 31.08 L99.10 31.66 L99.60 32.28 L100.10 32.94 L100.60 33.61 L101.10 34.31 L101.60 35.01 L102.10 35.72 L102.60 36.44 L103.10 37.17 L103.60 37.91 L104.10 38.65 L104.60 39.41 L105.10 40.16 L105.60 40.93 L106.10 41.70 L106.60 42.48 L107.10 43.26 L107.60 44.07 L108.10 44.88 L108.60 45.72 L109.10 46.57 L109.60 47.44 L110.10 48.32 L110.60 49.23 L111.10 50.15 L111.60 51.10 L112.10 52.06 L112.60 53.04 L113.10 54.03 L113.60 55.04 L114.10 56.06 L114.60 57.09 L115.10 58.12 L115.60 59.15 L116.10 60.19 L116.60 61.21 L117.10 62.24 L117.60 63.27 L118.10 64.29 L118.60 65.32 L119.10 66.36 L119.60 67.40 L120.10 68.45 L120.60 69.51 L121.10 70.59 L121.60 71.68 L122.10 72.78 L122.60 73.90 L123.10 75.03 L123.60 76.18 L124.10 77.34 L124.60 78.52 L125.10 79.73 L125.60 80.95 L126.10 82.20 L126.60 83.46 L127.10 84.73 L127.60 85.98 L128.10 87.23 L128.60 88.44 L129.10 89.62 L129.60 90.75 L130.10 91.85 L130.60 92.91 L131.10 93.94 L131.60 94.95 L132.10 95.94 L132.60 96.92 L133.10 97.89 L133.60 98.88 L134.10 99.88 L134.60 100.89 L135.10 101.93 L135.60 102.98 L136.10 104.04 L136.60 105.11 L137.10 106.17 L137.60 107.23 L138.10 108.29 L138.60 109.33 L139.10 110.35 L139.60 111.36 L140.10 112.36 L140.60 113.34 L141.10 114.31 L141.60 115.27 L142.10 116.23 L142.60 117.18 L143.10 118.12 L143.60 119.04 L144.10 119.95 L144.60 120.85 L145.10 121.73 L145.60 122.60 L146.10 123.46 L146.60 124.30 L147.10 125.13 L147.60 125.96 L148.10 126.77 L148.60 127.59 L149.10 128.40 L149.60 129.21 L150.10 130.03 L150.60 130.85 L151.10 131.67 L151.60 132.50 L152.10 133.33 L152.60 134.16 L153.10 134.98 L153.60 135.80 L154.10 136.60 L154.60 137.40 L155.10 138.19 L155.60 138.97 L156.10 139.75 L156.60 140.51 L157.10 141.26 L157.60 141.99 L158.10 142.71 L158.60 143.41 L159.10 144.07 L159.60 144.71 L160.10 145.32 L160.60 145.89 L161.10 146.44 L161.60 146.96 L162.10 147.46 L162.60 147.94 L163.10 148.41 L163.60 148.86 L164.10 149.31 L164.60 149.75 L165.10 150.19 L165.60 150.62 L166.10 151.04 L166.60 151.46 L167.10 151.87 L167.60 152.28 L168.10 152.67 L168.60 153.06 L169.10 153.45 L169.60 153.82 L170.10 154.19 L170.60 154.55 L171.10 154.91 L171.60 155.26 L172.10 155.60 L172.60 155.93 L173.10 156.25 L173.60 156.54 L174.10 156.81 L174.60 157.05 L175.10 157.27 L175.60 157.47 L176.10 157.65 L176.60 157.82 L177.10 157.97 L177.60 158.11 L178.10 158.23 L178.60 158.33 L179.10 158.41 L179.60 158.47 L180.10 158.51 L180.60 158.52 L181.10 158.50 L181.60 158.45 L182.10 158.38 L182.60 158.29 L183.10 158.18 L183.60 158.05 L184.10 157.91 L184.60 157.75 L185.10 157.58 L185.60 157.39 L186.10 157.19 L186.60 156.96 L187.10 156.70 L187.60 156.42 L188.10 156.12 L188.60 155.80 L189.10 155.46 L189.60 155.12 L190.10 154.76 L190.60 154.41 L191.10 154.04 L191.60 153.67 L192.10 153.29 L192.60 152.91 L193.10 152.52 L193.60 152.11 L194.10 151.71 L194.60 151.29 L195.10 150.87 L195.60 150.45 L196.10 150.01 L196.60 149.58 L197.10 149.13 L197.60 148.68 L198.10 148.22 L198.60 147.75 L199.10 147.26 L199.60 146.75 L200.10 146.22 L200.60 145.66 L201.10 145.08 L201.60 144.46 L202.10 143.81 L202.60 143.13 L203.10 142.42 L203.60 141.70 L204.10 140.96 L204.60 140.20 L205.10 139.44 L205.60 138.66 L206.10 137.88 L206.60 137.08 L207.10 136.28 L207.60 135.47 L208.10 134.65 L208.60 133.83 L209.10 133.00 L209.60 132.17 L210.10 131.34 L210.60 130.52 L211.10 129.70 L211.60 128.88 L212.10 128.07 L212.60 127.26 L213.10 126.45 L213.60 125.63 L214.10 124.80 L214.60 123.96 L215.10 123.12 L215.60 122.25 L216.10 121.38 L216.60 120.49 L217.10 119.59 L217.60 118.67 L218.10 117.74 L218.60 116.80 L219.10 115.85 L219.60 114.89 L220.10 113.92 L220.60 112.95 L221.10 111.96 L221.60 110.96 L222.10 109.94 L222.60 108.91 L223.10 107.87 L223.60 106.81 L224.10 105.75 L224.60 104.68 L225.10 103.61 L225.60 102.56 L226.10 101.51 L226.60 100.49 L227.10 99.48 L227.60 98.48 L228.10 97.50 L228.60 96.52 L229.10 95.54 L229.60 94.55 L230.10 93.53 L230.60 92.49 L231.10 91.42 L231.60 90.30 L232.10 89.15 L232.60 87.96 L233.10 86.73 L233.60 85.48 L234.10 84.22 L234.60 82.96 L235.10 81.70 L235.60 80.46 L236.10 79.24 L236.60 78.05 L237.10 76.87 L237.60 75.72 L238.10 74.58 L238.60 73.45 L239.10 72.34 L239.60 71.24 L240.10 70.15 L240.60 69.08 L241.10 68.03 L241.60 66.98 L242.10 65.94 L242.60 64.91 L243.10 63.88 L243.60 62.86 L244.10 61.83 L244.60 60.80 L245.10 59.77 L245.60 58.74 L246.10 57.70 L246.60 56.67 L247.10 55.65 L247.60 54.63 L248.10 53.63 L248.60 52.64 L249.10 51.67 L249.60 50.72 L250.10 49.78 L250.60 48.86 L251.10 47.97 L251.60 47.09 L252.10 46.23 L252.60 45.38 L253.10 44.56 L253.60 43.74 L254.10 42.95 L254.60 42.16 L255.10 41.39 L255.60 40.62 L256.10 39.86 L256.60 39.10 L257.10 38.36 L257.60 37.61 L258.10 36.88 L258.60 36.15 L259.10 35.44 L259.60 34.73 L260.10 34.03 L260.60 33.34 L261.10 32.67 L261.60 32.03 L262.10 31.42 L262.60 30.87 L263.10 30.36 L263.60 29.90 L264.10 29.49 L264.60 29.12 L265.10 28.78 L265.60 28.46 L266.10 28.15 L266.60 27.86 L267.10 27.57 L267.60 27.30 L268.10 27.03 L268.60 26.79 L269.10 26.56 L269.60 26.35 L270.10 26.16 L270.60 25.99 L271.10 25.85 L271.60 25.73 L272.10 25.64 L272.60 25.57 L273.10 25.51 L273.60 25.47 L274.10 25.44 L274.60 25.42 L275.10 25.41 L275.60 25.40 L276.10 25.40 L276.60 25.40 L277.10 25.40 L277.60 25.40 L278.10 25.40 L278.60 25.40 L279.10 25.40 L279.60 25.40 L280.10 25.40 L280.60 25.40 L281.10 25.40 L281.60 25.40 L282.10 25.40 L282.60 25.40 L283.10 25.40 L283.60 25.40 L284.10 25.40 L284.60 25.40 L285.10 25.40 L285.60 25.40 L286.10 25.40 L286.60 25.40 L287.10 25.40 L287.60 25.40 L288.10 25.40 L288.60 25.40 L289.10 25.40 L289.60 25.40 L290.10 25.40 L290.60 25.40 L291.10 25.40 L291.60 25.40 L292.10 25.40 L292.60 25.40 L293.10 25.40 L293.60 25.40 L294.10 25.40 L294.60 25.40 L295.10 25.40 L295.60 25.40 L296.10 25.40 L296.60 25.40 L297.10 25.40 L297.60 25.40 L298.10 25.40 L298.60 25.40 L299.10 25.40 L299.60 25.40 L300.10 25.40 L300.60 25.40 L301.10 25.40 L301.60 25.40 L302.10 25.40 L302.60 25.40 L303.10 25.40 L303.60 25.40 L304.10 25.40 L304.60 25.40 L305.10 25.40 L305.60 25.40 L306.10 25.40 L306.60 25.40 L307.10 25.40 L307.60 25.40 L308.10 25.40 L308.60 25.40 L309.10 25.40 L309.60 25.40 L310.10 25.40 L310.60 25.40 L311.10 25.40 L311.60 25.40 L312.10 25.40 L312.60 25.40 L313.10 25.40 L313.60 25.40 L314.10 25.40 L314.60 25.40 L315.10 25.40 L315.60 25.40 L316.10 25.40 L316.60 25.40 L317.10 25.40 L317.60 25.40 L318.10 25.40 L318.60 25.40 L319.10 25.40 L319.60 25.40 L320.10 25.40 L320.60 25.40 L321.10 25.40 L321.60 25.40 L322.10 25.40 L322.60 25.40 L323.10 25.40 L323.60 25.40 L324.10 25.40 L324.60 25.40 L325.10 25.40" fill="none" stroke="#000000" stroke-width="1.2" stroke-dasharray="6.3 1.5"/>
<path d="M35.60 25.40 L36.10 25.40 L36.60 25.40 L37.10 25.40 L37.60 25.40 L38.10 25.40 L38.60 25.40 L39.10 25.40 L39.60 25.40 L40.10 25.40 L40.60 25.40 L41.10 25.40 L41.60 25.40 L42.10 25.40 L42.60 25.40 L43.10 25.40 L43.60 25.40 L44.10 25.40 L44.60 25.40 L45.10 25.40 L45.60 25.40 L46.10 25.40 L46.60 25.40 L47.10 25.40 L47.60 25.40 L48.10 25.40 L48.60 25.40 L49.10 25.40 L49.60 25.40 L50.10 25.40 L50.60 25.40 L51.10 25.40 L51.60 25.40 L52.10 25.40 L52.60 25.40 L53.10 25.40 L53.60 25.40 L54.10 25.40 L54.60 25.40 L55.10 25.40 L55.60 25.40 L56.10 25.40 L56.60 25.40 L57.10 25.40 L57.60 25.40 L58.10 25.40 L58.60 25.40 L59.10 25.40 L59.60 25.40 L60.10 25.40 L60.60 25.40 L61.10 25.40 L61.60 25.40 L62.10 25.40 L62.60 25.41 L63.10 25.42 L63.60 25.43 L64.10 25.45 L64.60 25.49 L65.10 25.53 L65.60 25.60 L66.10 25.68 L66.60 25.78 L67.10 25.90 L67.60 26.04 L68.10 26.20 L68.60 26.37 L69.10 26.55 L69.60 26.75 L70.10 26.95 L70.60 27.16 L71.10 27.38 L71.60 27.61 L72.10 27.84 L72.60 28.08 L73.10 28.33 L73.60 28.60 L74.10 28.89 L74.60 29.19 L75.10 29.50 L75.60 29.83 L76.10 30.15 L76.60 30.48 L77.10 30.81 L77.60 31.15 L78.10 31.48 L78.60 31.81 L79.10 32.15 L79.60 32.50 L80.10 32.85 L80.60 33.21 L81.10 33.58 L81.60 33.96 L82.10 34.35 L82.60 34.74 L83.10 35.15 L83.60 35.57 L84.10 35.99 L84.60 36.41 L85.10 36.84 L85.60 37.27 L86.10 37.69 L86.60 38.12 L87.10 38.54 L87.60 38.95 L88.10 39.36 L88.60 39.77 L89.10 40.19 L89.60 40.61 L90.10 41.04 L90.60 41.49 L91.10 41.95 L91.60 42.44 L92.10 42.94 L92.60 43.45 L93.10 43.97 L93.60 44.50 L94.10 45.03 L94.60 45.56 L95.10 46.10 L95.60 46.63 L96.10 47.15 L96.60 47.67 L97.10 48.19 L97.60 48.70 L98.10 49.20 L98.60 49.71 L99.10 50.21 L99.60 50.72 L100.10 51.23 L100.60 51.74 L101.10 52.26 L101.60 52.77 L102.10 53.28 L102.60 53.79 L103.10 54.31 L103.60 54.83 L104.10 55.37 L104.60 55.91 L105.10 56.48 L105.60 57.05 L106.10 57.63 L106.60 58.22 L107.10 58.81 L107.60 59.40 L108.10 59.97 L108.60 60.55 L109.10 61.11 L109.60 61.68 L110.10 62.23 L110.60 62.79 L111.10 63.34 L111.60 63.90 L112.10 64.45 L112.60 65.00 L113.10 65.56 L113.60 66.11 L114.10 66.66 L114.60 67.22 L115.10 67.77 L115.60 68.33 L116.10 68.89 L116.60 69.45 L117.10 70.01 L117.60 70.57 L118.10 71.13 L118.60 71.70 L119.10 72.27 L119.60 72.84 L120.10 73.41 L120.60 73.97 L121.10 74.54 L121.60 75.11 L122.10 75.68 L122.60 76.25 L123.10 76.82 L123.60 77.39 L124.10 77.95 L124.60 78.52 L125.10 79.09 L125.60 79.66 L126.10 80.23 L126.60 80.80 L127.10 81.36 L127.60 81.93 L128.10 82.50 L128.60 83.07 L129.10 83.64 L129.60 84.21 L130.10 84.78 L130.60 85.35 L131.10 85.93 L131.60 86.51 L132.10 87.08 L132.60 87.65 L133.10 88.22 L133.60 88.78 L134.10 89.32 L134.60 89.86 L135.10 90.38 L135.60 90.89 L136.10 91.39 L136.60 91.89 L137.10 92.37 L137.60 92.84 L138.10 93.30 L138.60 93.76 L139.10 94.20 L139.60 94.63 L140.10 95.05 L140.60 95.45 L141.10 95.85 L141.60 96.23 L142.10 96.61 L142.60 96.98 L143.10 97.35 L143.60 97.71 L144.10 98.07 L144.60 98.43 L145.10 98.79 L145.60 99.14 L146.10 99.49 L146.60 99.84 L147.10 100.18 L147.60 100.52 L148.10 100.85 L148.60 101.18 L149.10 101.50 L149.60 101.82 L150.10 102.13 L150.60 102.44 L151.10 102.75 L151.60 103.05 L152.10 103.35 L152.60 103.65 L153.10 103.94 L153.60 104.23 L154.10 104.52 L154.60 104.81 L155.10 105.09 L155.60 105.37 L156.10 105.65 L156.60 105.93 L157.10 106.21 L157.60 106.49 L158.10 106.77 L158.60 107.04 L159.10 107.31 L159.60 107.58 L160.10 107.84 L160.60 108.11 L161.10 108.37 L161.60 108.62 L162.10 108.88 L162.60 109.13 L163.10 109.38 L163.60 109.62 L164.10 109.86 L164.60 110.10 L165.10 110.34 L165.60 110.57 L166.10 110.80 L166.60 111.03 L167.10 111.26 L167.60 111.48 L168.10 111.70 L168.60 111.91 L169.10 112.12 L169.60 112.33 L170.10 112.53 L170.60 112.73 L171.10 112.93 L171.60 113.13 L172.10 113.32 L172.60 113.50 L173.10 113.68 L173.60 113.85 L174.10 114.01 L174.60 114.17 L175.10 114.31 L175.60 114.45 L176.10 114.59 L176.60 114.72 L177.10 114.84 L177.60 114.96 L178.10 115.07 L178.60 115.16 L179.10 115.23 L179.60 115.28 L180.10 115.32 L180.60 115.32 L181.10 115.31 L181.60 115.27 L182.10 115.20 L182.60 115.12 L183.10 115.03 L183.60 114.92 L184.10 114.80 L184.60 114.67 L185.10 114.54 L185.60 114.40 L186.10 114.25 L186.60 114.11 L187.10 113.95 L187.60 113.78 L188.10 113.61 L188.60 113.43 L189.10 113.24 L189.60 113.05 L190.10 112.85 L190.60 112.65 L191.10 112.45 L191.60 112.25 L192.10 112.04 L192.60 111.83 L193.10 111.61 L193.60 111.39 L194.10 111.17 L194.60 110.94 L195.10 110.71 L195.60 110.48 L196.10 110.24 L196.60 110.01 L197.10 109.77 L197.60 109.52 L198.10 109.28 L198.60 109.03 L199.10 108.77 L199.60 108.52 L200.10 108.26 L200.60 108.00 L201.10 107.74 L201.60 107.47 L202.10 107.20 L202.60 106.93 L203.10 106.66 L203.60 106.38 L204.10 106.10 L204.60 105.82 L205.10 105.54 L205.60 105.26 L206.10 104.98 L206.60 104.69 L207.10 104.40 L207.60 104.12 L208.10 103.82 L208.60 103.53 L209.10 103.23 L209.60 102.93 L210.10 102.63 L210.60 102.32 L211.10 102.01 L211.60 101.69 L212.10 101.37 L212.60 101.05 L213.10 100.72 L213.60 100.38 L214.10 100.04 L214.60 99.70 L215.10 99.35 L215.60 99.00 L216.10 98.64 L216.60 98.29 L217.10 97.93 L217.60 97.56 L218.10 97.20 L218.60 96.83 L219.10 96.46 L219.60 96.08 L220.10 95.69 L220.60 95.29 L221.10 94.88 L221.60 94.46 L222.10 94.02 L222.60 93.58 L223.10 93.12 L223.60 92.65 L224.10 92.18 L224.60 91.69 L225.10 91.20 L225.60 90.69 L226.10 90.17 L226.60 89.65 L227.10 89.11 L227.60 88.56 L228.10 87.99 L228.60 87.43 L229.10 86.85 L229.60 86.28 L230.10 85.70 L230.60 85.12 L231.10 84.55 L231.60 83.98 L232.10 83.41 L232.60 82.84 L233.10 82.27 L233.60 81.70 L234.10 81.14 L234.60 80.57 L235.10 80.00 L235.60 79.43 L236.10 78.86 L236.60 78.30 L237.10 77.73 L237.60 77.16 L238.10 76.59 L238.60 76.02 L239.10 75.45 L239.60 74.89 L240.10 74.32 L240.60 73.75 L241.10 73.18 L241.60 72.61 L242.10 72.04 L242.60 71.47 L243.10 70.91 L243.60 70.34 L244.10 69.78 L244.60 69.22 L245.10 68.66 L245.60 68.11 L246.10 67.55 L246.60 67.00 L247.10 66.44 L247.60 65.89 L248.10 65.33 L248.60 64.78 L249.10 64.23 L249.60 63.67 L250.10 63.12 L250.60 62.57 L251.10 62.01 L251.60 61.45 L252.10 60.89 L252.60 60.32 L253.10 59.74 L253.60 59.16 L254.10 58.58 L254.60 57.99 L255.10 57.40 L255.60 56.82 L256.10 56.25 L256.60 55.69 L257.10 55.15 L257.60 54.62 L258.10 54.10 L258.60 53.59 L259.10 53.08 L259.60 52.56 L260.10 52.05 L260.60 51.54 L261.10 51.02 L261.60 50.51 L262.10 50.01 L262.60 49.50 L263.10 49.00 L263.60 48.49 L264.10 47.98 L264.60 47.47 L265.10 46.94 L265.60 46.42 L266.10 45.88 L266.60 45.35 L267.10 44.82 L267.60 44.29 L268.10 43.76 L268.60 43.24 L269.10 42.74 L269.60 42.24 L270.10 41.76 L270.60 41.31 L271.10 40.86 L271.60 40.44 L272.10 40.02 L272.60 39.61 L273.10 39.20 L273.60 38.79 L274.10 38.37 L274.60 37.95 L275.10 37.52 L275.60 37.09 L276.10 36.67 L276.60 36.24 L277.10 35.82 L277.60 35.40 L278.10 34.99 L278.60 34.58 L279.10 34.19 L279.60 33.80 L280.10 33.43 L280.60 33.07 L281.10 32.71 L281.60 32.36 L282.10 32.02 L282.60 31.68 L283.10 31.34 L283.60 31.01 L284.10 30.68 L284.60 30.35 L285.10 30.02 L285.60 29.70 L286.10 29.37 L286.60 29.06 L287.10 28.77 L287.60 28.49 L288.10 28.23 L288.60 27.98 L289.10 27.75 L289.60 27.52 L290.10 27.29 L290.60 27.08 L291.10 26.87 L291.60 26.67 L292.10 26.48 L292.60 26.30 L293.10 26.13 L293.60 25.98 L294.10 25.85 L294.60 25.74 L295.10 25.64 L295.60 25.57 L296.10 25.51 L296.60 25.47 L297.10 25.44 L297.60 25.42 L298.10 25.41 L298.60 25.40 L299.10 25.40 L299.60 25.40 L300.10 25.40 L300.60 25.40 L301.10 25.40 L301.60 25.40 L302.10 25.40 L302.60 25.40 L303.10 25.40 L303.60 25.40 L304.10 25.40 L304.60 25.40 L305.10 25.40 L305.60 25.40 L306.10 25.40 L306.60 25.40 L307.10 25.40 L307.60 25.40 L308.10 25.40 L308.60 25.40 L309.10 25.40 L309.60 25.40 L310.10 25.40 L310.60 25.40 L311.10 25.40 L311.60 25.40 L312.10 25.40 L312.60 25.40 L313.10 25.40 L313.60 25.40 L314.10 25.40 L314.60 25.40 L315.10 25.40 L315.60 25.40 L316.10 25.40 L316.60 25.40 L317.10 25.40 L317.60 25.40 L318.10 25.40 L318.60 25.40 L319.10 25.40 L319.60 25.40 L320.10 25.40 L320.60 25.40 L321.10 25.40 L321.60 25.40 L322.10 25.40 L322.60 25.40 L323.10 25.40 L323.60 25.40 L324.10 25.40 L324.60 25.40 L325.10 25.40" fill="none" stroke="#ff0000" stroke-width="1.2" stroke-dasharray="6.3 1.5"/>
<path d="M35.60 25.40 L36.10 25.40 L36.60 25.40 L37.10 25.40 L37.60 25.40 L38.10 25.40 L38.60 25.40 L39.10 25.40 L39.60 25.40 L40.10 25.40 L40.60 25.40 L41.10 25.40 L41.60 25.40 L42.10 25.40 L42.60 25.40 L43.10 25.40 L43.60 25.40 L44.10 25.40 L44.60 25.40 L45.10 25.40 L45.60 25.40 L46.10 25.40 L46.60 25.40 L47.10 25.40 L47.60 25.40 L48.10 25.40 L48.60 25.40 L49.10 25.40 L49.60 25.40 L50.10 25.40 L50.60 25.40 L51.10 25.40 L51.60 25.40 L52.10 25.40 L52.60 25.40 L53.10 25.40 L53.60 25.40 L54.10 25.40 L54.60 25.40 L55.10 25.40 L55.60 25.40 L56.10 25.40 L56.60 25.40 L57.10 25.40 L57.60 25.40 L58.10 25.40 L58.60 25.40 L59.10 25.40 L59.60 25.40 L60.10 25.40 L60.60 25.40 L61.10 25.40 L61.60 25.40 L62.10 25.40 L62.60 25.40 L63.10 25.40 L63.60 25.40 L64.10 25.40 L64.60 25.40 L65.10 25.40 L65.60 25.40 L66.10 25.40 L66.60 25.40 L67.10 25.40 L67.60 25.40 L68.10 25.40 L68.60 25.40 L69.10 25.40 L69.60 25.40 L70.10 25.40 L70.60 25.40 L71.10 25.40 L71.60 25.40 L72.10 25.40 L72.60 25.40 L73.10 25.40 L73.60 25.40 L74.10 25.40 L74.60 25.40 L75.10 25.40 L75.60 25.40 L76.10 25.40 L76.60 25.40 L77.10 25.40 L77.60 25.40 L78.10 25.40 L78.60 25.40 L79.10 25.40 L79.60 25.40 L80.10 25.40 L80.60 25.40 L81.10 25.40 L81.60 25.40 L82.10 25.40 L82.60 25.40 L83.10 25.40 L83.60 25.40 L84.10 25.40 L84.60 25.40 L85.10 25.40 L85.60 25.40 L86.10 25.40 L86.60 25.40 L87.10 25.40 L87.60 25.40 L88.10 25.40 L88.60 25.40 L89.10 25.40 L89.60 25.40 L90.10 25.40 L90.60 25.40 L91.10 25.40 L91.60 25.40 L92.10 25.40 L92.60 25.40 L93.10 25.40 L93.60 25.40 L94.10 25.40 L94.60 25.41 L95.10 25.42 L95.60 25.43 L96.10 25.47 L96.60 25.52 L97.10 25.59 L97.60 25.68 L98.10 25.80 L98.60 25.94 L99.10 26.11 L99.60 26.30 L100.10 26.51 L100.60 26.74 L101.10 27.00 L101.60 27.26 L102.10 27.53 L102.60 27.80 L103.10 28.08 L103.60 28.36 L104.10 28.64 L104.60 28.92 L105.10 29.22 L105.60 29.53 L106.10 29.85 L106.60 30.18 L107.10 30.53 L107.60 30.91 L108.10 31.30 L108.60 31.71 L109.10 32.14 L109.60 32.58 L110.10 33.03 L110.60 33.49 L111.10 33.96 L111.60 34.44 L112.10 34.95 L112.60 35.47 L113.10 36.01 L113.60 36.59 L114.10 37.19 L114.60 37.83 L115.10 38.50 L115.60 39.19 L116.10 39.90 L116.60 40.63 L117.10 41.37 L117.60 42.12 L118.10 42.89 L118.60 43.68 L119.10 44.49 L119.60 45.33 L120.10 46.21 L120.60 47.12 L121.10 48.09 L121.60 49.12 L122.10 50.22 L122.60 51.39 L123.10 52.63 L123.60 53.93 L124.10 55.29 L124.60 56.70 L125.10 58.14 L125.60 59.61 L126.10 61.08 L126.60 62.57 L127.10 64.05 L127.60 65.54 L128.10 67.04 L128.60 68.55 L129.10 70.10 L129.60 71.68 L130.10 73.30 L130.60 74.96 L131.10 76.65 L131.60 78.35 L132.10 80.08 L132.60 81.84 L133.10 83.63 L133.60 85.47 L134.10 87.38 L134.60 89.35 L135.10 91.39 L135.60 93.49 L136.10 95.64 L136.60 97.82 L137.10 100.03 L137.60 102.29 L138.10 104.59 L138.60 106.94 L139.10 109.35 L139.60 111.80 L140.10 114.26 L140.60 116.68 L141.10 119.04 L141.60 121.31 L142.10 123.50 L142.60 125.62 L143.10 127.70 L143.60 129.78 L144.10 131.86 L144.60 133.97 L145.10 136.13 L145.60 138.36 L146.10 140.67 L146.60 143.08 L147.10 145.56 L147.60 148.09 L148.10 150.64 L148.60 153.18 L149.10 155.70 L149.60 158.18 L150.10 160.61 L150.60 163.00 L151.10 165.36 L151.60 167.68 L152.10 169.99 L152.60 172.28 L153.10 174.54 L153.60 176.79 L154.10 179.02 L154.60 181.25 L155.10 183.46 L155.60 185.67 L156.10 187.86 L156.60 190.03 L157.10 192.18 L157.60 194.30 L158.10 196.38 L158.60 198.42 L159.10 200.44 L159.60 202.43 L160.10 204.39 L160.60 206.34 L161.10 208.26 L161.60 210.14 L162.10 211.98 L162.60 213.77 L163.10 215.50 L163.60 217.17 L164.10 218.78 L164.60 220.36 L165.10 221.90 L165.60 223.42 L166.10 224.93 L166.60 226.41 L167.10 227.86 L167.60 229.28 L168.10 230.65 L168.60 231.97 L169.10 233.23 L169.60 234.43 L170.10 235.56 L170.60 236.62 L171.10 237.61 L171.60 238.53 L172.10 239.38 L172.60 240.18 L173.10 240.92 L173.60 241.61 L174.10 242.25 L174.60 242.85 L175.10 243.40 L175.60 243.92 L176.10 244.39 L176.60 244.82 L177.10 245.20 L177.60 245.53 L178.10 245.80 L178.60 246.03 L179.10 246.20 L179.60 246.33 L180.10 246.40 L180.60 246.42 L181.10 246.38 L181.60 246.28 L182.10 246.14 L182.60 245.94 L183.10 245.70 L183.60 245.40 L184.10 245.05 L184.60 244.65 L185.10 244.21 L185.60 243.72 L186.10 243.19 L186.60 242.62 L187.10 242.00 L187.60 241.34 L188.10 240.63 L188.60 239.87 L189.10 239.05 L189.60 238.17 L190.10 237.22 L190.60 236.20 L191.10 235.11 L191.60 233.96 L192.10 232.74 L192.60 231.45 L193.10 230.11 L193.60 228.72 L194.10 227.29 L194.60 225.82 L195.10 224.33 L195.60 222.82 L196.10 221.29 L196.60 219.73 L197.10 218.14 L197.60 216.51 L198.10 214.81 L198.60 213.06 L199.10 211.25 L199.60 209.39 L200.10 207.50 L200.60 205.57 L201.10 203.61 L201.60 201.63 L202.10 199.63 L202.60 197.61 L203.10 195.55 L203.60 193.46 L204.10 191.33 L204.60 189.17 L205.10 186.98 L205.60 184.79 L206.10 182.58 L206.60 180.36 L207.10 178.13 L207.60 175.89 L208.10 173.64 L208.60 171.37 L209.10 169.07 L209.60 166.76 L210.10 164.42 L210.60 162.05 L211.10 159.64 L211.60 157.19 L212.10 154.70 L212.60 152.17 L213.10 149.62 L213.60 147.07 L214.10 144.56 L214.60 142.10 L215.10 139.73 L215.60 137.46 L216.10 135.26 L216.60 133.12 L217.10 131.03 L217.60 128.95 L218.10 126.87 L218.60 124.78 L219.10 122.63 L219.60 120.42 L220.10 118.11 L220.60 115.72 L221.10 113.28 L221.60 110.82 L222.10 108.38 L222.60 105.99 L223.10 103.66 L223.60 101.38 L224.10 99.14 L224.60 96.94 L225.10 94.77 L225.60 92.65 L226.10 90.57 L226.60 88.55 L227.10 86.60 L227.60 84.73 L228.10 82.91 L228.60 81.13 L229.10 79.39 L229.60 77.67 L230.10 75.97 L230.60 74.29 L231.10 72.65 L231.60 71.05 L232.10 69.48 L232.60 67.94 L233.10 66.44 L233.60 64.94 L234.10 63.46 L234.60 61.97 L235.10 60.49 L235.60 59.02 L236.10 57.56 L236.60 56.13 L237.10 54.74 L237.60 53.40 L238.10 52.12 L238.60 50.91 L239.10 49.77 L239.60 48.70 L240.10 47.70 L240.60 46.75 L241.10 45.85 L241.60 44.99 L242.10 44.16 L242.60 43.36 L243.10 42.58 L243.60 41.82 L244.10 41.07 L244.60 40.33 L245.10 39.61 L245.60 38.91 L246.10 38.23 L246.60 37.57 L247.10 36.95 L247.60 36.35 L248.10 35.79 L248.60 35.26 L249.10 34.74 L249.60 34.25 L250.10 33.77 L250.60 33.30 L251.10 32.85 L251.60 32.40 L252.10 31.97 L252.60 31.55 L253.10 31.14 L253.60 30.76 L254.10 30.39 L254.60 30.04 L255.10 29.72 L255.60 29.40 L256.10 29.10 L256.60 28.81 L257.10 28.52 L257.60 28.24 L258.10 27.97 L258.60 27.69 L259.10 27.42 L259.60 27.15 L260.10 26.89 L260.60 26.65 L261.10 26.42 L261.60 26.22 L262.10 26.04 L262.60 25.88 L263.10 25.75 L263.60 25.64 L264.10 25.56 L264.60 25.49 L265.10 25.45 L265.60 25.43 L266.10 25.41 L266.60 25.40 L267.10 25.40 L267.60 25.40 L268.10 25.40 L268.60 25.40 L269.10 25.40 L269.60 25.40 L270.10 25.40 L270.60 25.40 L271.10 25.40 L271.60 25.40 L272.10 25.40 L272.60 25.40 L273.10 25.40 L273.60 25.40 L274.10 25.40 L274.60 25.40 L275.10 25.40 L275.60 25.40 L276.10 25.40 L276.60 25.40 L277.10 25.40 L277.60 25.40 L278.10 25.40 L278.60 25.40 L279.10 25.40 L279.60 25.40 L280.10 25.40 L280.60 25.40 L281.10 25.40 L281.60 25.40 L282.10 25.40 L282.60 25.40 L283.10 25.40 L283.60 25.40 L284.10 25.40 L284.60 25.40 L285.10 25.40 L285.60 25.40 L286.10 25.40 L286.60 25.40 L287.10 25.40 L287.60 25.40 L288.10 25.40 L288.60 25.40 L289.10 25.40 L289.60 25.40 L290.10 25.40 L290.60 25.40 L291.10 25.40 L291.60 25.40 L292.10 25.40 L292.60 25.40 L293.10 25.40 L293.60 25.40 L294.10 25.40 L294.60 25.40 L295.10 25.40 L295.60 25.40 L296.10 25.40 L296.60 25.40 L297.10 25.40 L297.60 25.40 L298.10 25.40 L298.60 25.40 L299.10 25.40 L299.60 25.40 L300.10 25.40 L300.60 25.40 L301.10 25.40 L301.60 25.40 L302.10 25.40 L302.60 25.40 L303.10 25.40 L303.60 25.40 L304.10 25.40 L304.60 25.40 L305.10 25.40 L305.60 25.40 L306.10 25.40 L306.60 25.40 L307.10 25.40 L307.60 25.40 L308.10 25.40 L308.60 25.40 L309.10 25.40 L309.60 25.40 L310.10 25.40 L310.60 25.40 L311.10 25.40 L311.60 25.40 L312.10 25.40 L312.60 25.40 L313.10 25.40 L313.60 25.40 L314.10 25.40 L314.60 25.40 L315.10 25.40 L315.60 25.40 L316.10 25.40 L316.60 25.40 L317.10 25.40 L317.60 25.40 L318.10 25.40 L318.60 25.40 L319.10 25.40 L319.60 25.40 L320.10 25.40 L320.60 25.40 L321.10 25.40 L321.60 25.40 L322.10 25.40 L322.60 25.40 L323.10 25.40 L323.60 25.40 L324.10 25.40 L324.60 25.40 L325.10 25.40" fill="none" stroke="#0000ff" stroke-width="1.2" stroke-dasharray="1.55 3.1"/>
<path d="M35.60 25.40 L36.10 25.40 L36.60 25.40 L37.10 25.40 L37.60 25.40 L38.10 25.40 L38.60 25.40 L39.10 25.40 L39.60 25.40 L40.10 25.40 L40.60 25.40 L41.10 25.40 L41.60 25.40 L42.10 25.40 L42.60 25.40 L43.10 25.40 L43.60 25.40 L44.10 25.40 L44.60 25.40 L45.10 25.40 L45.60 25.40 L46.10 25.40 L46.60 25.40 L47.10 25.40 L47.60 25.40 L48.10 25.40 L48.60 25.40 L49.10 25.40 L49.60 25.40 L50.10 25.40 L50.60 25.40 L51.10 25.40 L51.60 25.40 L52.10 25.40 L52.60 25.40 L53.10 25.40 L53.60 25.40 L54.10 25.40 L54.60 25.40 L55.10 25.40 L55.60 25.40 L56.10 25.40 L56.60 25.40 L57.10 25.40 L57.60 25.40 L58.10 25.40 L58.60 25.40 L59.10 25.40 L59.60 25.40 L60.10 25.40 L60.60 25.40 L61.10 25.40 L61.60 25.40 L62.10 25.40 L62.60 25.40 L63.10 25.40 L63.60 25.40 L64.10 25.40 L64.60 25.40 L65.10 25.40 L65.60 25.40 L66.10 25.40 L66.60 25.40 L67.10 25.41 L67.60 25.42 L68.10 25.44 L68.60 25.47 L69.10 25.51 L69.60 25.57 L70.10 25.64 L70.60 25.73 L71.10 25.84 L71.60 25.97 L72.10 26.13 L72.60 26.32 L73.10 26.55 L73.60 26.81 L74.10 27.10 L74.60 27.41 L75.10 27.74 L75.60 28.08 L76.10 28.43 L76.60 28.79 L77.10 29.15 L77.60 29.51 L78.10 29.86 L78.60 30.21 L79.10 30.55 L79.60 30.88 L80.10 31.21 L80.60 31.54 L81.10 31.88 L81.60 32.23 L82.10 32.59 L82.60 32.96 L83.10 33.34 L83.60 33.72 L84.10 34.12 L84.60 34.53 L85.10 34.95 L85.60 35.38 L86.10 35.82 L86.60 36.28 L87.10 36.74 L87.60 37.22 L88.10 37.71 L88.60 38.20 L89.10 38.69 L89.60 39.19 L90.10 39.69 L90.60 40.19 L91.10 40.71 L91.60 41.24 L92.10 41.80 L92.60 42.38 L93.10 43.00 L93.60 43.66 L94.10 44.34 L94.60 45.04 L95.10 45.75 L95.60 46.46 L96.10 47.18 L96.60 47.90 L97.10 48.62 L97.60 49.36 L98.10 50.10 L98.60 50.87 L99.10 51.67 L99.60 52.49 L100.10 53.35 L100.60 54.25 L101.10 55.18 L101.60 56.14 L102.10 57.13 L102.60 58.13 L103.10 59.13 L103.60 60.14 L104.10 61.15 L104.60 62.14 L105.10 63.12 L105.60 64.08 L106.10 65.02 L106.60 65.95 L107.10 66.86 L107.60 67.77 L108.10 68.69 L108.60 69.62 L109.10 70.57 L109.60 71.55 L110.10 72.57 L110.60 73.62 L111.10 74.69 L111.60 75.77 L112.10 76.85 L112.60 77.92 L113.10 78.97 L113.60 80.00 L114.10 81.00 L114.60 82.00 L115.10 82.99 L115.60 83.98 L116.10 84.99 L116.60 86.02 L117.10 87.05 L117.60 88.08 L118.10 89.12 L118.60 90.16 L119.10 91.21 L119.60 92.27 L120.10 93.34 L120.60 94.42 L121.10 95.51 L121.60 96.61 L122.10 97.70 L122.60 98.77 L123.10 99.82 L123.60 100.84 L124.10 101.82 L124.60 102.78 L125.10 103.72 L125.60 104.67 L126.10 105.63 L126.60 106.61 L127.10 107.58 L127.60 108.54 L128.10 109.46 L128.60 110.35 L129.10 111.21 L129.60 112.06 L130.10 112.90 L130.60 113.76 L131.10 114.65 L131.60 115.55 L132.10 116.47 L132.60 117.38 L133.10 118.30 L133.60 119.20 L134.10 120.08 L134.60 120.95 L135.10 121.80 L135.60 122.63 L136.10 123.44 L136.60 124.23 L137.10 125.01 L137.60 125.77 L138.10 126.52 L138.60 127.27 L139.10 128.00 L139.60 128.72 L140.10 129.43 L140.60 130.12 L141.10 130.81 L141.60 131.49 L142.10 132.16 L142.60 132.83 L143.10 133.50 L143.60 134.16 L144.10 134.82 L144.60 135.47 L145.10 136.12 L145.60 136.77 L146.10 137.40 L146.60 138.04 L147.10 138.67 L147.60 139.29 L148.10 139.92 L148.60 140.54 L149.10 141.17 L149.60 141.79 L150.10 142.41 L150.60 143.02 L151.10 143.61 L151.60 144.19 L152.10 144.74 L152.60 145.28 L153.10 145.80 L153.60 146.30 L154.10 146.80 L154.60 147.28 L155.10 147.76 L155.60 148.22 L156.10 148.68 L156.60 149.13 L157.10 149.56 L157.60 150.00 L158.10 150.42 L158.60 150.84 L159.10 151.24 L159.60 151.65 L160.10 152.04 L160.60 152.43 L161.10 152.81 L161.60 153.18 L162.10 153.55 L162.60 153.92 L163.10 154.28 L163.60 154.64 L164.10 154.99 L164.60 155.34 L165.10 155.68 L165.60 156.02 L166.10 156.35 L166.60 156.66 L167.10 156.97 L167.60 157.27 L168.10 157.56 L168.60 157.83 L169.10 158.10 L169.60 158.36 L170.10 158.62 L170.60 158.87 L171.10 159.11 L171.60 159.33 L172.10 159.54 L172.60 159.74 L173.10 159.91 L173.60 160.07 L174.10 160.21 L174.60 160.33 L175.10 160.44 L175.60 160.54 L176.10 160.63 L176.60 160.71 L177.10 160.79 L177.60 160.86 L178.10 160.92 L178.60 160.97 L179.10 161.01 L179.60 161.04 L180.10 161.06 L180.60 161.06 L181.10 161.05 L181.60 161.03 L182.10 161.00 L182.60 160.95 L183.10 160.90 L183.60 160.83 L184.10 160.76 L184.60 160.68 L185.10 160.59 L185.60 160.50 L186.10 160.39 L186.60 160.28 L187.10 160.15 L187.60 160.01 L188.10 159.84 L188.60 159.66 L189.10 159.46 L189.60 159.24 L190.10 159.01 L190.60 158.77 L191.10 158.52 L191.60 158.26 L192.10 158.00 L192.60 157.72 L193.10 157.44 L193.60 157.15 L194.10 156.85 L194.60 156.54 L195.10 156.22 L195.60 155.88 L196.10 155.55 L196.60 155.20 L197.10 154.85 L197.60 154.49 L198.10 154.14 L198.60 153.77 L199.10 153.41 L199.60 153.03 L200.10 152.66 L200.60 152.27 L201.10 151.88 L201.60 151.49 L202.10 151.08 L202.60 150.67 L203.10 150.25 L203.60 149.82 L204.10 149.39 L204.60 148.95 L205.10 148.50 L205.60 148.04 L206.10 147.57 L206.60 147.09 L207.10 146.60 L207.60 146.10 L208.10 145.59 L208.60 145.06 L209.10 144.52 L209.60 143.96 L210.10 143.38 L210.60 142.78 L211.10 142.17 L211.60 141.54 L212.10 140.92 L212.60 140.29 L213.10 139.67 L213.60 139.04 L214.10 138.42 L214.60 137.79 L215.10 137.15 L215.60 136.51 L216.10 135.86 L216.60 135.21 L217.10 134.55 L217.60 133.89 L218.10 133.23 L218.60 132.57 L219.10 131.90 L219.60 131.22 L220.10 130.54 L220.60 129.85 L221.10 129.14 L221.60 128.43 L222.10 127.71 L222.60 126.97 L223.10 126.22 L223.60 125.47 L224.10 124.70 L224.60 123.91 L225.10 123.12 L225.60 122.30 L226.10 121.46 L226.60 120.61 L227.10 119.73 L227.60 118.84 L228.10 117.93 L228.60 117.02 L229.10 116.10 L229.60 115.19 L230.10 114.29 L230.60 113.42 L231.10 112.56 L231.60 111.72 L232.10 110.87 L232.60 110.00 L233.10 109.10 L233.60 108.16 L234.10 107.19 L234.60 106.22 L235.10 105.25 L235.60 104.29 L236.10 103.35 L236.60 102.40 L237.10 101.43 L237.60 100.44 L238.10 99.40 L238.60 98.34 L239.10 97.26 L239.60 96.17 L240.10 95.07 L240.60 93.99 L241.10 92.91 L241.60 91.84 L242.10 90.79 L242.60 89.75 L243.10 88.71 L243.60 87.67 L244.10 86.63 L244.60 85.60 L245.10 84.59 L245.60 83.58 L246.10 82.59 L246.60 81.60 L247.10 80.60 L247.60 79.59 L248.10 78.55 L248.60 77.50 L249.10 76.42 L249.60 75.34 L250.10 74.26 L250.60 73.20 L251.10 72.16 L251.60 71.16 L252.10 70.18 L252.60 69.24 L253.10 68.32 L253.60 67.41 L254.10 66.50 L254.60 65.58 L255.10 64.65 L255.60 63.70 L256.10 62.73 L256.60 61.75 L257.10 60.75 L257.60 59.74 L258.10 58.73 L258.60 57.73 L259.10 56.73 L259.60 55.75 L260.10 54.81 L260.60 53.89 L261.10 53.01 L261.60 52.16 L262.10 51.35 L262.60 50.56 L263.10 49.80 L263.60 49.06 L264.10 48.33 L264.60 47.61 L265.10 46.89 L265.60 46.18 L266.10 45.46 L266.60 44.76 L267.10 44.06 L267.60 43.39 L268.10 42.75 L268.60 42.14 L269.10 41.57 L269.60 41.02 L270.10 40.50 L270.60 39.99 L271.10 39.49 L271.60 38.99 L272.10 38.50 L272.60 38.00 L273.10 37.51 L273.60 37.03 L274.10 36.56 L274.60 36.09 L275.10 35.64 L275.60 35.20 L276.10 34.78 L276.60 34.36 L277.10 33.96 L277.60 33.57 L278.10 33.18 L278.60 32.81 L279.10 32.45 L279.60 32.09 L280.10 31.75 L280.60 31.41 L281.10 31.08 L281.60 30.75 L282.10 30.41 L282.60 30.07 L283.10 29.72 L283.60 29.37 L284.10 29.01 L284.60 28.65 L285.10 28.29 L285.60 27.95 L286.10 27.61 L286.60 27.28 L287.10 26.98 L287.60 26.70 L288.10 26.46 L288.60 26.24 L289.10 26.07 L289.60 25.92 L290.10 25.80 L290.60 25.69 L291.10 25.61 L291.60 25.54 L292.10 25.49 L292.60 25.45 L293.10 25.43 L293.60 25.41 L294.10 25.41 L294.60 25.40 L295.10 25.40 L295.60 25.40 L296.10 25.40 L296.60 25.40 L297.10 25.40 L297.60 25.40 L298.10 25.40 L298.60 25.40 L299.10 25.40 L299.60 25.40 L300.10 25.40 L300.60 25.40 L301.10 25.40 L301.60 25.40 L302.10 25.40 L302.60 25.40 L303.10 25.40 L303.60 25.40 L304.10 25.40 L304.60 25.40 L305.10 25.40 L305.60 25.40 L306.10 25.40 L306.60 25.40 L307.10 25.40 L307.60 25.40 L308.10 25.40 L308.60 25.40 L309.10 25.40 L309.60 25.40 L310.10 25.40 L310.60 25.40 L311.10 25.40 L311.60 25.40 L312.10 25.40 L312.60 25.40 L313.10 25.40 L313.60 25.40 L314.10 25.40 L314.60 25.40 L315.10 25.40 L315.60 25.40 L316.10 25.40 L316.60 25.40 L317.10 25.40 L317.60 25.40 L318.10 25.40 L318.60 25.40 L319.10 25.40 L319.60 25.40 L320.10 25.40 L320.60 25.40 L321.10 25.40 L321.60 25.40 L322.10 25.40 L322.60 25.40 L323.10 25.40 L323.60 25.40 L324.10 25.40 L324.60 25.40 L325.10 25.40" fill="none" stroke="#000000" stroke-width="1.2" stroke-dasharray="1.55 3.1"/>
<path d="M35.60 25.40 L36.10 25.40 L36.60 25.40 L37.10 25.40 L37.60 25.40 L38.10 25.40 L38.60 25.41 L39.10 25.42 L39.60 25.44 L40.10 25.47 L40.60 25.52 L41.10 25.59 L41.60 25.68 L42.10 25.79 L42.60 25.92 L43.10 26.06 L43.60 26.22 L44.10 26.39 L44.60 26.57 L45.10 26.75 L45.60 26.95 L46.10 27.15 L46.60 27.35 L47.10 27.55 L47.60 27.76 L48.10 27.97 L48.60 28.19 L49.10 28.41 L49.60 28.63 L50.10 28.86 L50.60 29.09 L51.10 29.32 L51.60 29.56 L52.10 29.80 L52.60 30.05 L53.10 30.30 L53.60 30.55 L54.10 30.80 L54.60 31.06 L55.10 31.32 L55.60 31.58 L56.10 31.85 L56.60 32.12 L57.10 32.39 L57.60 32.68 L58.10 32.97 L58.60 33.27 L59.10 33.58 L59.60 33.91 L60.10 34.24 L60.60 34.58 L61.10 34.94 L61.60 35.30 L62.10 35.67 L62.60 36.05 L63.10 36.44 L63.60 36.84 L64.10 37.25 L64.60 37.66 L65.10 38.07 L65.60 38.49 L66.10 38.90 L66.60 39.30 L67.10 39.71 L67.60 40.11 L68.10 40.51 L68.60 40.92 L69.10 41.33 L69.60 41.75 L70.10 42.19 L70.60 42.64 L71.10 43.10 L71.60 43.57 L72.10 44.04 L72.60 44.52 L73.10 45.00 L73.60 45.48 L74.10 45.96 L74.60 46.45 L75.10 46.95 L75.60 47.46 L76.10 48.00 L76.60 48.56 L77.10 49.15 L77.60 49.77 L78.10 50.41 L78.60 51.07 L79.10 51.72 L79.60 52.37 L80.10 53.01 L80.60 53.64 L81.10 54.27 L81.60 54.89 L82.10 55.52 L82.60 56.15 L83.10 56.80 L83.60 57.46 L84.10 58.12 L84.60 58.78 L85.10 59.43 L85.60 60.08 L86.10 60.72 L86.60 61.35 L87.10 61.98 L87.60 62.62 L88.10 63.26 L88.60 63.91 L89.10 64.57 L89.60 65.24 L90.10 65.92 L90.60 66.59 L91.10 67.27 L91.60 67.93 L92.10 68.59 L92.60 69.24 L93.10 69.88 L93.60 70.51 L94.10 71.14 L94.60 71.76 L95.10 72.37 L95.60 72.98 L96.10 73.58 L96.60 74.17 L97.10 74.76 L97.60 75.35 L98.10 75.92 L98.60 76.49 L99.10 77.06 L99.60 77.62 L100.10 78.18 L100.60 78.74 L101.10 79.29 L101.60 79.84 L102.10 80.39 L102.60 80.94 L103.10 81.48 L103.60 82.03 L104.10 82.58 L104.60 83.12 L105.10 83.67 L105.60 84.21 L106.10 84.75 L106.60 85.29 L107.10 85.83 L107.60 86.36 L108.10 86.90 L108.60 87.43 L109.10 87.96 L109.60 88.49 L110.10 89.03 L110.60 89.56 L111.10 90.09 L111.60 90.62 L112.10 91.15 L112.60 91.66 L113.10 92.18 L113.60 92.68 L114.10 93.17 L114.60 93.66 L115.10 94.15 L115.60 94.63 L116.10 95.11 L116.60 95.59 L117.10 96.06 L117.60 96.54 L118.10 97.01 L118.60 97.48 L119.10 97.95 L119.60 98.42 L120.10 98.88 L120.60 99.34 L121.10 99.80 L121.60 100.26 L122.10 100.71 L122.60 101.16 L123.10 101.61 L123.60 102.04 L124.10 102.48 L124.60 102.90 L125.10 103.32 L125.60 103.74 L126.10 104.16 L126.60 104.57 L127.10 104.97 L127.60 105.38 L128.10 105.78 L128.60 106.17 L129.10 106.57 L129.60 106.96 L130.10 107.35 L130.60 107.74 L131.10 108.13 L131.60 108.52 L132.10 108.91 L132.60 109.29 L133.10 109.66 L133.60 110.03 L134.10 110.39 L134.60 110.73 L135.10 111.06 L135.60 111.39 L136.10 111.70 L136.60 112.01 L137.10 112.31 L137.60 112.61 L138.10 112.91 L138.60 113.21 L139.10 113.50 L139.60 113.80 L140.10 114.10 L140.60 114.40 L141.10 114.70 L141.60 115.00 L142.10 115.30 L142.60 115.60 L143.10 115.90 L143.60 116.20 L144.10 116.49 L144.60 116.79 L145.10 117.08 L145.60 117.38 L146.10 117.66 L146.60 117.95 L147.10 118.23 L147.60 118.51 L148.10 118.78 L148.60 119.05 L149.10 119.32 L149.60 119.58 L150.10 119.84 L150.60 120.09 L151.10 120.34 L151.60 120.58 L152.10 120.83 L152.60 121.06 L153.10 121.30 L153.60 121.53 L154.10 121.76 L154.60 121.98 L155.10 122.21 L155.60 122.43 L156.10 122.65 L156.60 122.87 L157.10 123.09 L157.60 123.30 L158.10 123.51 L158.60 123.71 L159.10 123.90 L159.60 124.09 L160.10 124.27 L160.60 124.44 L161.10 124.61 L161.60 124.78 L162.10 124.94 L162.60 125.10 L163.10 125.25 L163.60 125.41 L164.10 125.56 L164.60 125.71 L165.10 125.86 L165.60 126.01 L166.10 126.15 L166.60 126.29 L167.10 126.43 L167.60 126.56 L168.10 126.69 L168.60 126.81 L169.10 126.93 L169.60 127.05 L170.10 127.16 L170.60 127.27 L171.10 127.38 L171.60 127.48 L172.10 127.58 L172.60 127.67 L173.10 127.75 L173.60 127.83 L174.10 127.90 L174.60 127.97 L175.10 128.04 L175.60 128.10 L176.10 128.16 L176.60 128.22 L177.10 128.27 L177.60 128.32 L178.10 128.37 L178.60 128.40 L179.10 128.43 L179.60 128.46 L180.10 128.47 L180.60 128.47 L181.10 128.46 L181.60 128.45 L182.10 128.42 L182.60 128.39 L183.10 128.35 L183.60 128.30 L184.10 128.25 L184.60 128.20 L185.10 128.14 L185.60 128.08 L186.10 128.01 L186.60 127.94 L187.10 127.87 L187.60 127.80 L188.10 127.72 L188.60 127.63 L189.10 127.54 L189.60 127.44 L190.10 127.34 L190.60 127.23 L191.10 127.12 L191.60 127.00 L192.10 126.89 L192.60 126.76 L193.10 126.64 L193.60 126.51 L194.10 126.37 L194.60 126.23 L195.10 126.09 L195.60 125.95 L196.10 125.80 L196.60 125.65 L197.10 125.50 L197.60 125.34 L198.10 125.19 L198.60 125.03 L199.10 124.88 L199.60 124.71 L200.10 124.55 L200.60 124.38 L201.10 124.20 L201.60 124.02 L202.10 123.83 L202.60 123.63 L203.10 123.43 L203.60 123.22 L204.10 123.00 L204.60 122.78 L205.10 122.56 L205.60 122.34 L206.10 122.12 L206.60 121.89 L207.10 121.67 L207.60 121.44 L208.10 121.20 L208.60 120.97 L209.10 120.73 L209.60 120.49 L210.10 120.24 L210.60 119.99 L211.10 119.73 L211.60 119.47 L212.10 119.21 L212.60 118.94 L213.10 118.67 L213.60 118.40 L214.10 118.12 L214.60 117.84 L215.10 117.55 L215.60 117.26 L216.10 116.97 L216.60 116.67 L217.10 116.38 L217.60 116.08 L218.10 115.78 L218.60 115.48 L219.10 115.18 L219.60 114.88 L220.10 114.58 L220.60 114.28 L221.10 113.98 L221.60 113.68 L222.10 113.39 L222.60 113.09 L223.10 112.79 L223.60 112.49 L224.10 112.19 L224.60 111.89 L225.10 111.58 L225.60 111.26 L226.10 110.93 L226.60 110.59 L227.10 110.24 L227.60 109.88 L228.10 109.51 L228.60 109.14 L229.10 108.75 L229.60 108.37 L230.10 107.98 L230.60 107.59 L231.10 107.20 L231.60 106.81 L232.10 106.41 L232.60 106.02 L233.10 105.62 L233.60 105.21 L234.10 104.81 L234.60 104.40 L235.10 103.99 L235.60 103.58 L236.10 103.16 L236.60 102.73 L237.10 102.30 L237.60 101.87 L238.10 101.43 L238.60 100.98 L239.10 100.53 L239.60 100.08 L240.10 99.62 L240.60 99.16 L241.10 98.70 L241.60 98.23 L242.10 97.76 L242.60 97.29 L243.10 96.82 L243.60 96.35 L244.10 95.87 L244.60 95.40 L245.10 94.92 L245.60 94.44 L246.10 93.96 L246.60 93.47 L247.10 92.98 L247.60 92.48 L248.10 91.97 L248.60 91.46 L249.10 90.94 L249.60 90.41 L250.10 89.88 L250.60 89.35 L251.10 88.81 L251.60 88.28 L252.10 87.75 L252.60 87.22 L253.10 86.68 L253.60 86.15 L254.10 85.61 L254.60 85.08 L255.10 84.54 L255.60 83.99 L256.10 83.45 L256.60 82.90 L257.10 82.36 L257.60 81.81 L258.10 81.26 L258.60 80.72 L259.10 80.17 L259.60 79.62 L260.10 79.07 L260.60 78.51 L261.10 77.96 L261.60 77.40 L262.10 76.83 L262.60 76.27 L263.10 75.69 L263.60 75.11 L264.10 74.53 L264.60 73.94 L265.10 73.34 L265.60 72.73 L266.10 72.12 L266.60 71.51 L267.10 70.89 L267.60 70.26 L268.10 69.62 L268.60 68.98 L269.10 68.33 L269.60 67.67 L270.10 67.00 L270.60 66.32 L271.10 65.64 L271.60 64.97 L272.10 64.30 L272.60 63.65 L273.10 63.00 L273.60 62.36 L274.10 61.73 L274.60 61.10 L275.10 60.46 L275.60 59.82 L276.10 59.17 L276.60 58.51 L277.10 57.85 L277.60 57.19 L278.10 56.54 L278.60 55.90 L279.10 55.27 L279.60 54.64 L280.10 54.02 L280.60 53.39 L281.10 52.76 L281.60 52.12 L282.10 51.46 L282.60 50.80 L283.10 50.15 L283.60 49.52 L284.10 48.91 L284.60 48.33 L285.10 47.78 L285.60 47.26 L286.10 46.75 L286.60 46.26 L287.10 45.77 L287.60 45.29 L288.10 44.81 L288.60 44.33 L289.10 43.85 L289.60 43.38 L290.10 42.91 L290.60 42.46 L291.10 42.02 L291.60 41.58 L292.10 41.16 L292.60 40.75 L293.10 40.35 L293.60 39.95 L294.10 39.55 L294.60 39.14 L295.10 38.73 L295.60 38.32 L296.10 37.91 L296.60 37.50 L297.10 37.09 L297.60 36.68 L298.10 36.29 L298.60 35.90 L299.10 35.52 L299.60 35.15 L300.10 34.79 L300.60 34.44 L301.10 34.11 L301.60 33.78 L302.10 33.46 L302.60 33.15 L303.10 32.85 L303.60 32.56 L304.10 32.28 L304.60 32.01 L305.10 31.74 L305.60 31.48 L306.10 31.22 L306.60 30.96 L307.10 30.70 L307.60 30.45 L308.10 30.20 L308.60 29.95 L309.10 29.71 L309.60 29.47 L310.10 29.23 L310.60 29.00 L311.10 28.77 L311.60 28.54 L312.10 28.32 L312.60 28.10 L313.10 27.89 L313.60 27.68 L314.10 27.47 L314.60 27.27 L315.10 27.07 L315.60 26.87 L316.10 26.68 L316.60 26.49 L317.10 26.32 L317.60 26.16 L318.10 26.01 L318.60 25.87 L319.10 25.75 L319.60 25.64 L320.10 25.56 L320.60 25.50 L321.10 25.45 L321.60 25.43 L322.10 25.41 L322.60 25.40 L323.10 25.40 L323.60 25.40 L324.10 25.40 L324.60 25.40 L325.10 25.40" fill="none" stroke="#ff0000" stroke-width="1.2" stroke-dasharray="1.55 3.1"/>
</g>
<rect x="35.6" y="16.6" width="289.59999999999997" height="234.4" fill="none" stroke="#3a3a3a" stroke-width="1.1"/>
<g stroke="#111" stroke-width="0.85">
<line x1="35.50" y1="251.00" x2="35.50" y2="248.80"/>
<line x1="35.50" y1="16.60" x2="35.50" y2="18.80"/>
<line x1="53.62" y1="251.00" x2="53.62" y2="249.60"/>
<line x1="53.62" y1="16.60" x2="53.62" y2="18.00"/>
<line x1="71.75" y1="251.00" x2="71.75" y2="248.80"/>
<line x1="71.75" y1="16.60" x2="71.75" y2="18.80"/>
<line x1="89.88" y1="251.00" x2="89.88" y2="249.60"/>
<line x1="89.88" y1="16.60" x2="89.88" y2="18.00"/>
<line x1="108.00" y1="251.00" x2="108.00" y2="248.80"/>
<line x1="108.00" y1="16.60" x2="108.00" y2="18.80"/>
<line x1="126.12" y1="251.00" x2="126.12" y2="249.60"/>
<line x1="126.12" y1="16.60" x2="126.12" y2="18.00"/>
<line x1="144.25" y1="251.00" x2="144.25" y2="248.80"/>
<line x1="144.25" y1="16.60" x2="144.25" y2="18.80"/>
<line x1="162.38" y1="251.00" x2="162.38" y2="249.60"/>
<line x1="162.38" y1="16.60" x2="162.38" y2="18.00"/>
<line x1="180.50" y1="251.00" x2="180.50" y2="248.80"/>
<line x1="180.50" y1="16.60" x2="180.50" y2="18.80"/>
<line x1="198.62" y1="251.00" x2="198.62" y2="249.60"/>
<line x1="198.62" y1="16.60" x2="198.62" y2="18.00"/>
<line x1="216.75" y1="251.00" x2="216.75" y2="248.80"/>
<line x1="216.75" y1="16.60" x2="216.75" y2="18.80"/>
<line x1="234.88" y1="251.00" x2="234.88" y2="249.60"/>
<line x1="234.88" y1="16.60" x2="234.88" y2="18.00"/>
<line x1="253.00" y1="251.00" x2="253.00" y2="248.80"/>
<line x1="253.00" y1="16.60" x2="253.00" y2="18.80"/>
<line x1="271.12" y1="251.00" x2="271.12" y2="249.60"/>
<line x1="271.12" y1="16.60" x2="271.12" y2="18.00"/>
<line x1="289.25" y1="251.00" x2="289.25" y2="248.80"/>
<line x1="289.25" y1="16.60" x2="289.25" y2="18.80"/>
<line x1="307.38" y1="251.00" x2="307.38" y2="249.60"/>
<line x1="307.38" y1="16.60" x2="307.38" y2="18.00"/>
<line x1="325.50" y1="251.00" x2="325.50" y2="248.80"/>
<line x1="325.50" y1="16.60" x2="325.50" y2="18.80"/>
<line x1="35.60" y1="25.40" x2="37.80" y2="25.40"/>
<line x1="325.20" y1="25.40" x2="323.00" y2="25.40"/>
<line x1="35.60" y1="46.30" x2="37.00" y2="46.30"/>
<line x1="325.20" y1="46.30" x2="323.80" y2="46.30"/>
<line x1="35.60" y1="67.20" x2="37.80" y2="67.20"/>
<line x1="325.20" y1="67.20" x2="323.00" y2="67.20"/>
<line x1="35.60" y1="88.10" x2="37.00" y2="88.10"/>
<line x1="325.20" y1="88.10" x2="323.80" y2="88.10"/>
<line x1="35.60" y1="109.00" x2="37.80" y2="109.00"/>
<line x1="325.20" y1="109.00" x2="323.00" y2="109.00"/>
<line x1="35.60" y1="129.90" x2="37.00" y2="129.90"/>
<line x1="325.20" y1="129.90" x2="323.80" y2="129.90"/>
<line x1="35.60" y1="150.80" x2="37.80" y2="150.80"/>
<line x1="325.20" y1="150.80" x2="323.00" y2="150.80"/>
<line x1="35.60" y1="171.70" x2="37.00" y2="171.70"/>
<line x1="325.20" y1="171.70" x2="323.80" y2="171.70"/>
<line x1="35.60" y1="192.60" x2="37.80" y2="192.60"/>
<line x1="325.20" y1="192.60" x2="323.00" y2="192.60"/>
<line x1="35.60" y1="213.50" x2="37.00" y2="213.50"/>
<line x1="325.20" y1="213.50" x2="323.80" y2="213.50"/>
<line x1="35.60" y1="234.40" x2="37.80" y2="234.40"/>
<line x1="325.20" y1="234.40" x2="323.00" y2="234.40"/>
</g>
<text x="35.20" y="263.3" text-anchor="middle" font-size="10">-8</text>
<text x="71.45" y="263.3" text-anchor="middle" font-size="10">-6</text>
<text x="107.70" y="263.3" text-anchor="middle" font-size="10">-4</text>
<text x="143.95" y="263.3" text-anchor="middle" font-size="10">-2</text>
<text x="180.20" y="263.3" text-anchor="middle" font-size="10">0</text>
<text x="216.45" y="263.3" text-anchor="middle" font-size="10">2</text>
<text x="252.70" y="263.3" text-anchor="middle" font-size="10">4</text>
<text x="288.95" y="263.3" text-anchor="middle" font-size="10">6</text>
<text x="325.20" y="263.3" text-anchor="middle" font-size="10">8</text>
<text x="31.3" y="28.90" text-anchor="end" font-size="10">1.0</text>
<text x="31.3" y="70.70" text-anchor="end" font-size="10">0.95</text>
<text x="31.3" y="112.50" text-anchor="end" font-size="10">0.9</text>
<text x="31.3" y="154.30" text-anchor="end" font-size="10">0.85</text>
<text x="31.3" y="196.10" text-anchor="end" font-size="10">0.8</text>
<text x="31.3" y="237.90" text-anchor="end" font-size="10">0.75</text>
<text x="40.4" y="53" font-size="11.8">F</text>
<text x="46.9" y="56.4" font-size="9" textLength="5.3" lengthAdjust="spacingAndGlyphs" font-style="italic">&#955;</text>
<text x="52.2" y="53" font-size="11.8">/F</text>
<text x="62.0" y="55.8" font-size="9.5">c</text>
<text x="273.6" y="185.8" font-size="11.5">HeI 4471</text>
<g stroke-width="1.05" fill="none">
<line x1="44.2" y1="209.95" x2="65.9" y2="209.95" stroke="#000" stroke-dasharray="1.3 3.3"/>
<line x1="44.1" y1="224.1" x2="65.9" y2="224.1" stroke="#000" stroke-dasharray="6.5 1.5"/>
<line x1="44.1" y1="238.4" x2="65.9" y2="238.4" stroke="#000"/>
<line x1="245.1" y1="209.95" x2="266.3" y2="209.95" stroke="#0000ff"/>
<line x1="245.1" y1="224.1" x2="266.3" y2="224.1" stroke="#000"/>
<line x1="245.1" y1="238.4" x2="266.3" y2="238.4" stroke="#ff0000"/>
</g>
<text x="72.5" y="213.9" font-size="11.75">no GD</text>
<text x="72.5" y="228.3" font-size="11.75">von Zeipel</text>
<text x="72.5" y="242.7" font-size="11.75">Espinosa-Lara &amp; Rieutord (2011)</text>
<text x="273.0" y="213.9" font-size="11.8">i = 22.5</text>
<text x="273.0" y="228.3" font-size="11.8">i = 45.0</text>
<text x="273.0" y="242.7" font-size="11.8">i = 90.0</text>
<text x="312.6" y="207.9" font-size="8.5">o</text>
<text x="312.6" y="222.3" font-size="8.5">o</text>
<text x="312.6" y="236.7" font-size="8.5">o</text>
<text x="163.6" y="275.5" font-size="14.2" textLength="10.6" lengthAdjust="spacingAndGlyphs">&#916;</text>
<text x="175.1" y="275.5" font-size="14.2">&#955;</text>
<text x="188.7" y="275.5" font-size="12.5">A</text>
<text x="190.5" y="266.2" font-size="11">o</text>
</svg>
</body></html>
